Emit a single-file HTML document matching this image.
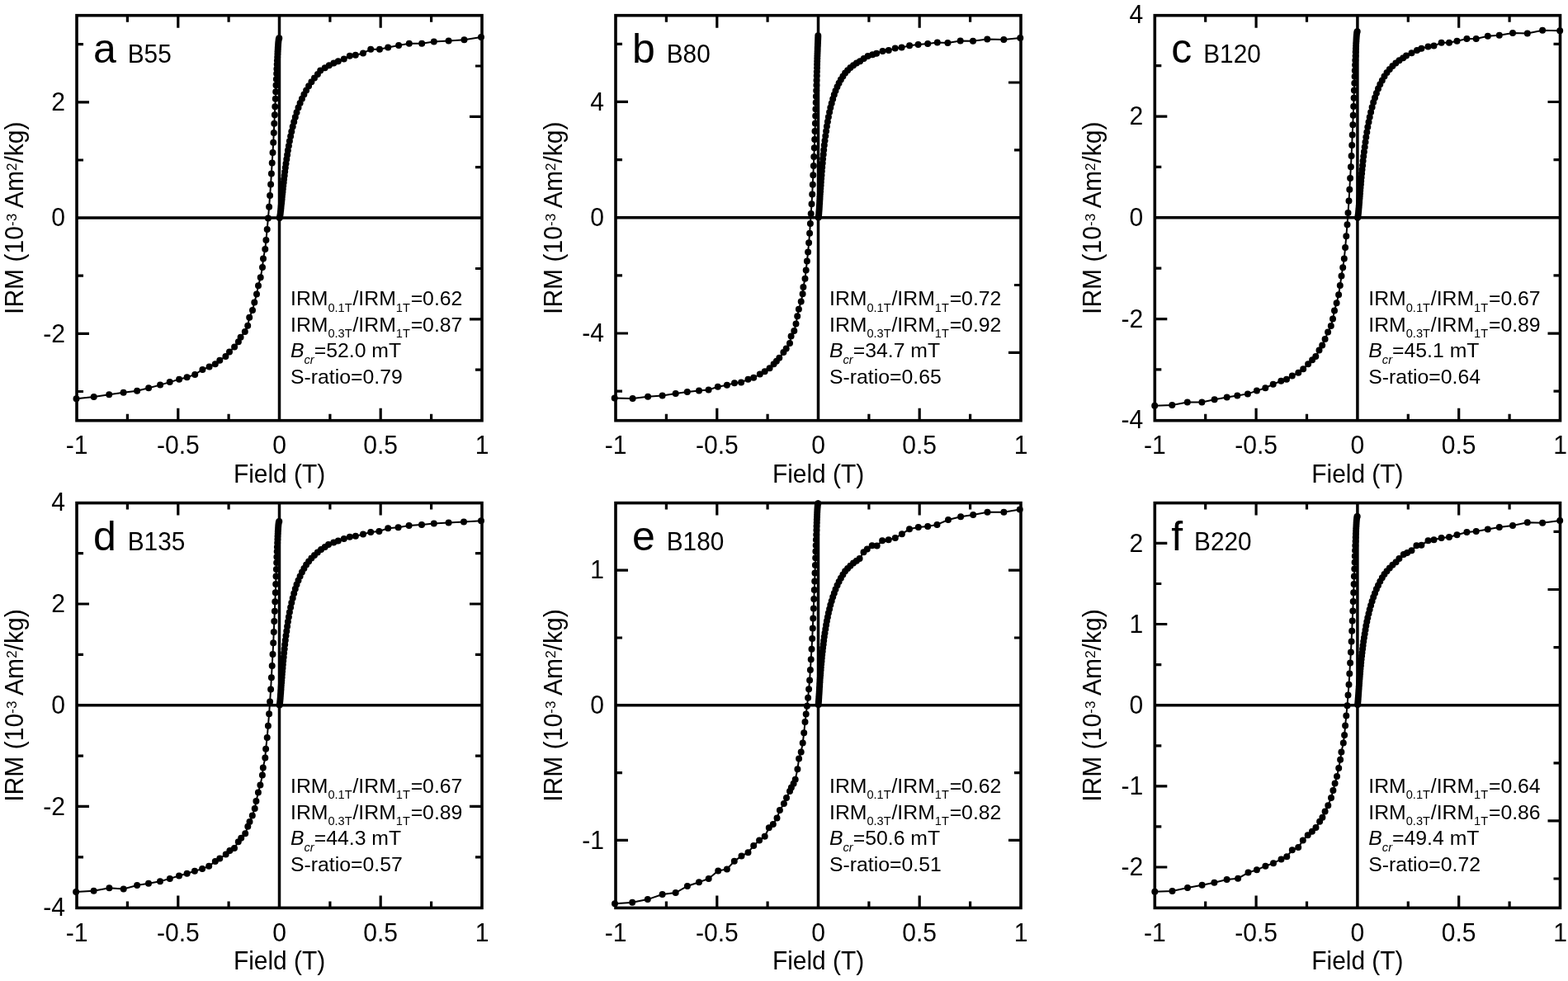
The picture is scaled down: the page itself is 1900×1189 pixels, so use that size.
<!DOCTYPE html>
<html><head><meta charset="utf-8"><title>IRM curves</title><style>
html,body{margin:0;padding:0;background:#fff;}
svg{display:block;}
text{font-family:"Liberation Sans",Arial,Helvetica,sans-serif;fill:#000;}
</style></head><body>
<svg width="1900" height="1189" viewBox="0 0 1900 1189">
<rect width="1900" height="1189" fill="#fff"/>
<polyline points="92.5,483.3 113.7,481.0 132.2,478.3 149.6,475.8 166.1,473.7 180.1,470.3 194.1,466.6 205.7,463.1 217.1,459.8 226.6,457.3 236.2,453.9 245.4,448.0 253.6,444.6 260.8,441.2 266.3,436.8 273.4,432.0 278.0,426.5 284.1,420.4 288.9,414.2 291.6,408.7 296.8,401.9 300.2,394.8 302.2,384.7 306.0,375.9 308.3,366.5 311.0,356.4 313.0,346.3 315.7,336.2 318.0,324.1 319.0,313.4 321.3,301.9 322.4,291.1 323.7,277.9 324.9,264.4 326.1,250.8 327.1,237.1 328.1,223.6 328.9,210.4 329.7,197.5 330.5,184.9 331.2,172.7 331.8,161.0 332.3,149.8 332.9,139.2 333.3,129.2 333.8,119.8 334.2,111.2 334.5,103.2 334.9,95.9 335.2,89.3 335.4,83.4 335.7,78.1 335.9,73.4 336.2,69.2 336.4,65.6 336.5,62.4 336.7,59.7 336.8,57.4 337.0,55.4 337.1,53.7 337.2,52.3 337.3,51.2 337.4,50.2 337.5,49.4 337.6,48.8 337.7,48.3 337.7,47.8 337.8,47.5 337.9,47.2 337.9,47.0 338.0,46.8 338.0,46.7 338.1,46.6 338.1,46.5 338.1,46.5 338.2,46.4 338.2,46.4 338.2,46.3 338.2,46.3 338.3,46.3 338.3,46.3 338.3,46.3 338.3,46.3 338.3,46.2" fill="none" stroke="#000" stroke-width="2.0"/>
<polyline points="583.0,45.0 562.5,48.3 543.6,49.4 525.8,50.5 511.2,52.7 495.8,52.7 483.1,55.0 470.2,57.5 460.0,59.7 449.2,59.7 440.0,64.5 430.8,66.7 423.8,67.8 416.8,71.5 409.8,74.2 404.4,76.4 398.8,79.2 393.7,82.3 388.2,85.6 384.9,89.9 381.0,94.5 377.4,99.2 374.1,104.2 371.1,109.4 368.4,114.5 365.9,119.7 363.6,125.1 361.5,130.6 359.5,136.3 357.8,142.0 356.2,147.8 354.7,153.6 353.3,159.4 352.1,165.2 350.9,171.0 349.9,176.7 348.9,182.3 348.1,187.8 347.3,193.1 346.5,198.3 345.8,203.3 345.2,208.1 344.7,212.8 344.1,217.2 343.7,221.3 343.2,225.3 342.8,229.0 342.5,232.4 342.1,235.6 341.8,238.6 341.6,241.4 341.3,243.9 341.1,246.3 340.8,248.4 340.6,250.3 340.5,252.0 340.3,253.6 340.2,255.0 340.0,256.2 339.9,257.3 339.8,258.3 339.7,259.1 339.6,259.9 339.5,260.5 339.4,261.1 339.3,261.5 339.3,262.0 339.2,262.3 339.1,262.6 339.1,262.9 339.0,263.1 339.0,263.3 338.9,263.4 338.9,263.6 338.9,263.7 338.8,263.7 338.8,263.8 338.8,263.9 338.8,263.9 338.7,264.0 338.7,264.0 338.7,264.0 338.7,264.0 338.7,264.0" fill="none" stroke="#000" stroke-width="2.0"/>
<path d="M88.5,483.3a4.0,4.0 0 1,0 8.0,0a4.0,4.0 0 1,0 -8.0,0M109.7,481.0a4.0,4.0 0 1,0 8.0,0a4.0,4.0 0 1,0 -8.0,0M128.2,478.3a4.0,4.0 0 1,0 8.0,0a4.0,4.0 0 1,0 -8.0,0M145.6,475.8a4.0,4.0 0 1,0 8.0,0a4.0,4.0 0 1,0 -8.0,0M162.1,473.7a4.0,4.0 0 1,0 8.0,0a4.0,4.0 0 1,0 -8.0,0M176.1,470.3a4.0,4.0 0 1,0 8.0,0a4.0,4.0 0 1,0 -8.0,0M190.1,466.6a4.0,4.0 0 1,0 8.0,0a4.0,4.0 0 1,0 -8.0,0M201.7,463.1a4.0,4.0 0 1,0 8.0,0a4.0,4.0 0 1,0 -8.0,0M213.1,459.8a4.0,4.0 0 1,0 8.0,0a4.0,4.0 0 1,0 -8.0,0M222.6,457.3a4.0,4.0 0 1,0 8.0,0a4.0,4.0 0 1,0 -8.0,0M232.2,453.9a4.0,4.0 0 1,0 8.0,0a4.0,4.0 0 1,0 -8.0,0M241.4,448.0a4.0,4.0 0 1,0 8.0,0a4.0,4.0 0 1,0 -8.0,0M249.6,444.6a4.0,4.0 0 1,0 8.0,0a4.0,4.0 0 1,0 -8.0,0M256.8,441.2a4.0,4.0 0 1,0 8.0,0a4.0,4.0 0 1,0 -8.0,0M262.3,436.8a4.0,4.0 0 1,0 8.0,0a4.0,4.0 0 1,0 -8.0,0M269.4,432.0a4.0,4.0 0 1,0 8.0,0a4.0,4.0 0 1,0 -8.0,0M274.0,426.5a4.0,4.0 0 1,0 8.0,0a4.0,4.0 0 1,0 -8.0,0M280.1,420.4a4.0,4.0 0 1,0 8.0,0a4.0,4.0 0 1,0 -8.0,0M284.9,414.2a4.0,4.0 0 1,0 8.0,0a4.0,4.0 0 1,0 -8.0,0M287.6,408.7a4.0,4.0 0 1,0 8.0,0a4.0,4.0 0 1,0 -8.0,0M292.8,401.9a4.0,4.0 0 1,0 8.0,0a4.0,4.0 0 1,0 -8.0,0M296.2,394.8a4.0,4.0 0 1,0 8.0,0a4.0,4.0 0 1,0 -8.0,0M298.2,384.7a4.0,4.0 0 1,0 8.0,0a4.0,4.0 0 1,0 -8.0,0M302.0,375.9a4.0,4.0 0 1,0 8.0,0a4.0,4.0 0 1,0 -8.0,0M304.3,366.5a4.0,4.0 0 1,0 8.0,0a4.0,4.0 0 1,0 -8.0,0M307.0,356.4a4.0,4.0 0 1,0 8.0,0a4.0,4.0 0 1,0 -8.0,0M309.0,346.3a4.0,4.0 0 1,0 8.0,0a4.0,4.0 0 1,0 -8.0,0M311.7,336.2a4.0,4.0 0 1,0 8.0,0a4.0,4.0 0 1,0 -8.0,0M314.0,324.1a4.0,4.0 0 1,0 8.0,0a4.0,4.0 0 1,0 -8.0,0M315.0,313.4a4.0,4.0 0 1,0 8.0,0a4.0,4.0 0 1,0 -8.0,0M317.3,301.9a4.0,4.0 0 1,0 8.0,0a4.0,4.0 0 1,0 -8.0,0M318.4,291.1a4.0,4.0 0 1,0 8.0,0a4.0,4.0 0 1,0 -8.0,0M319.7,277.9a4.0,4.0 0 1,0 8.0,0a4.0,4.0 0 1,0 -8.0,0M320.9,264.4a4.0,4.0 0 1,0 8.0,0a4.0,4.0 0 1,0 -8.0,0M322.1,250.8a4.0,4.0 0 1,0 8.0,0a4.0,4.0 0 1,0 -8.0,0M323.1,237.1a4.0,4.0 0 1,0 8.0,0a4.0,4.0 0 1,0 -8.0,0M324.1,223.6a4.0,4.0 0 1,0 8.0,0a4.0,4.0 0 1,0 -8.0,0M324.9,210.4a4.0,4.0 0 1,0 8.0,0a4.0,4.0 0 1,0 -8.0,0M325.7,197.5a4.0,4.0 0 1,0 8.0,0a4.0,4.0 0 1,0 -8.0,0M326.5,184.9a4.0,4.0 0 1,0 8.0,0a4.0,4.0 0 1,0 -8.0,0M327.2,172.7a4.0,4.0 0 1,0 8.0,0a4.0,4.0 0 1,0 -8.0,0M327.8,161.0a4.0,4.0 0 1,0 8.0,0a4.0,4.0 0 1,0 -8.0,0M328.3,149.8a4.0,4.0 0 1,0 8.0,0a4.0,4.0 0 1,0 -8.0,0M328.9,139.2a4.0,4.0 0 1,0 8.0,0a4.0,4.0 0 1,0 -8.0,0M329.3,129.2a4.0,4.0 0 1,0 8.0,0a4.0,4.0 0 1,0 -8.0,0M329.8,119.8a4.0,4.0 0 1,0 8.0,0a4.0,4.0 0 1,0 -8.0,0M330.2,111.2a4.0,4.0 0 1,0 8.0,0a4.0,4.0 0 1,0 -8.0,0M330.5,103.2a4.0,4.0 0 1,0 8.0,0a4.0,4.0 0 1,0 -8.0,0M330.9,95.9a4.0,4.0 0 1,0 8.0,0a4.0,4.0 0 1,0 -8.0,0M331.2,89.3a4.0,4.0 0 1,0 8.0,0a4.0,4.0 0 1,0 -8.0,0M331.4,83.4a4.0,4.0 0 1,0 8.0,0a4.0,4.0 0 1,0 -8.0,0M331.7,78.1a4.0,4.0 0 1,0 8.0,0a4.0,4.0 0 1,0 -8.0,0M331.9,73.4a4.0,4.0 0 1,0 8.0,0a4.0,4.0 0 1,0 -8.0,0M332.2,69.2a4.0,4.0 0 1,0 8.0,0a4.0,4.0 0 1,0 -8.0,0M332.4,65.6a4.0,4.0 0 1,0 8.0,0a4.0,4.0 0 1,0 -8.0,0M332.5,62.4a4.0,4.0 0 1,0 8.0,0a4.0,4.0 0 1,0 -8.0,0M332.7,59.7a4.0,4.0 0 1,0 8.0,0a4.0,4.0 0 1,0 -8.0,0M332.8,57.4a4.0,4.0 0 1,0 8.0,0a4.0,4.0 0 1,0 -8.0,0M333.0,55.4a4.0,4.0 0 1,0 8.0,0a4.0,4.0 0 1,0 -8.0,0M333.1,53.7a4.0,4.0 0 1,0 8.0,0a4.0,4.0 0 1,0 -8.0,0M333.2,52.3a4.0,4.0 0 1,0 8.0,0a4.0,4.0 0 1,0 -8.0,0M333.3,51.2a4.0,4.0 0 1,0 8.0,0a4.0,4.0 0 1,0 -8.0,0M333.4,50.2a4.0,4.0 0 1,0 8.0,0a4.0,4.0 0 1,0 -8.0,0M333.5,49.4a4.0,4.0 0 1,0 8.0,0a4.0,4.0 0 1,0 -8.0,0M333.6,48.8a4.0,4.0 0 1,0 8.0,0a4.0,4.0 0 1,0 -8.0,0M333.7,48.3a4.0,4.0 0 1,0 8.0,0a4.0,4.0 0 1,0 -8.0,0M333.7,47.8a4.0,4.0 0 1,0 8.0,0a4.0,4.0 0 1,0 -8.0,0M333.8,47.5a4.0,4.0 0 1,0 8.0,0a4.0,4.0 0 1,0 -8.0,0M333.9,47.2a4.0,4.0 0 1,0 8.0,0a4.0,4.0 0 1,0 -8.0,0M333.9,47.0a4.0,4.0 0 1,0 8.0,0a4.0,4.0 0 1,0 -8.0,0M334.0,46.8a4.0,4.0 0 1,0 8.0,0a4.0,4.0 0 1,0 -8.0,0M334.0,46.7a4.0,4.0 0 1,0 8.0,0a4.0,4.0 0 1,0 -8.0,0M334.1,46.6a4.0,4.0 0 1,0 8.0,0a4.0,4.0 0 1,0 -8.0,0M334.1,46.5a4.0,4.0 0 1,0 8.0,0a4.0,4.0 0 1,0 -8.0,0M334.1,46.5a4.0,4.0 0 1,0 8.0,0a4.0,4.0 0 1,0 -8.0,0M334.2,46.4a4.0,4.0 0 1,0 8.0,0a4.0,4.0 0 1,0 -8.0,0M334.2,46.4a4.0,4.0 0 1,0 8.0,0a4.0,4.0 0 1,0 -8.0,0M334.2,46.3a4.0,4.0 0 1,0 8.0,0a4.0,4.0 0 1,0 -8.0,0M334.2,46.3a4.0,4.0 0 1,0 8.0,0a4.0,4.0 0 1,0 -8.0,0M334.3,46.3a4.0,4.0 0 1,0 8.0,0a4.0,4.0 0 1,0 -8.0,0M334.3,46.3a4.0,4.0 0 1,0 8.0,0a4.0,4.0 0 1,0 -8.0,0M334.3,46.3a4.0,4.0 0 1,0 8.0,0a4.0,4.0 0 1,0 -8.0,0M334.3,46.3a4.0,4.0 0 1,0 8.0,0a4.0,4.0 0 1,0 -8.0,0M334.3,46.2a4.0,4.0 0 1,0 8.0,0a4.0,4.0 0 1,0 -8.0,0M579.0,45.0a4.0,4.0 0 1,0 8.0,0a4.0,4.0 0 1,0 -8.0,0M558.5,48.3a4.0,4.0 0 1,0 8.0,0a4.0,4.0 0 1,0 -8.0,0M539.6,49.4a4.0,4.0 0 1,0 8.0,0a4.0,4.0 0 1,0 -8.0,0M521.8,50.5a4.0,4.0 0 1,0 8.0,0a4.0,4.0 0 1,0 -8.0,0M507.2,52.7a4.0,4.0 0 1,0 8.0,0a4.0,4.0 0 1,0 -8.0,0M491.8,52.7a4.0,4.0 0 1,0 8.0,0a4.0,4.0 0 1,0 -8.0,0M479.1,55.0a4.0,4.0 0 1,0 8.0,0a4.0,4.0 0 1,0 -8.0,0M466.2,57.5a4.0,4.0 0 1,0 8.0,0a4.0,4.0 0 1,0 -8.0,0M456.0,59.7a4.0,4.0 0 1,0 8.0,0a4.0,4.0 0 1,0 -8.0,0M445.2,59.7a4.0,4.0 0 1,0 8.0,0a4.0,4.0 0 1,0 -8.0,0M436.0,64.5a4.0,4.0 0 1,0 8.0,0a4.0,4.0 0 1,0 -8.0,0M426.8,66.7a4.0,4.0 0 1,0 8.0,0a4.0,4.0 0 1,0 -8.0,0M419.8,67.8a4.0,4.0 0 1,0 8.0,0a4.0,4.0 0 1,0 -8.0,0M412.8,71.5a4.0,4.0 0 1,0 8.0,0a4.0,4.0 0 1,0 -8.0,0M405.8,74.2a4.0,4.0 0 1,0 8.0,0a4.0,4.0 0 1,0 -8.0,0M400.4,76.4a4.0,4.0 0 1,0 8.0,0a4.0,4.0 0 1,0 -8.0,0M394.8,79.2a4.0,4.0 0 1,0 8.0,0a4.0,4.0 0 1,0 -8.0,0M389.7,82.3a4.0,4.0 0 1,0 8.0,0a4.0,4.0 0 1,0 -8.0,0M384.2,85.6a4.0,4.0 0 1,0 8.0,0a4.0,4.0 0 1,0 -8.0,0M380.9,89.9a4.0,4.0 0 1,0 8.0,0a4.0,4.0 0 1,0 -8.0,0M377.0,94.5a4.0,4.0 0 1,0 8.0,0a4.0,4.0 0 1,0 -8.0,0M373.4,99.2a4.0,4.0 0 1,0 8.0,0a4.0,4.0 0 1,0 -8.0,0M370.1,104.2a4.0,4.0 0 1,0 8.0,0a4.0,4.0 0 1,0 -8.0,0M367.1,109.4a4.0,4.0 0 1,0 8.0,0a4.0,4.0 0 1,0 -8.0,0M364.4,114.5a4.0,4.0 0 1,0 8.0,0a4.0,4.0 0 1,0 -8.0,0M361.9,119.7a4.0,4.0 0 1,0 8.0,0a4.0,4.0 0 1,0 -8.0,0M359.6,125.1a4.0,4.0 0 1,0 8.0,0a4.0,4.0 0 1,0 -8.0,0M357.5,130.6a4.0,4.0 0 1,0 8.0,0a4.0,4.0 0 1,0 -8.0,0M355.5,136.3a4.0,4.0 0 1,0 8.0,0a4.0,4.0 0 1,0 -8.0,0M353.8,142.0a4.0,4.0 0 1,0 8.0,0a4.0,4.0 0 1,0 -8.0,0M352.2,147.8a4.0,4.0 0 1,0 8.0,0a4.0,4.0 0 1,0 -8.0,0M350.7,153.6a4.0,4.0 0 1,0 8.0,0a4.0,4.0 0 1,0 -8.0,0M349.3,159.4a4.0,4.0 0 1,0 8.0,0a4.0,4.0 0 1,0 -8.0,0M348.1,165.2a4.0,4.0 0 1,0 8.0,0a4.0,4.0 0 1,0 -8.0,0M346.9,171.0a4.0,4.0 0 1,0 8.0,0a4.0,4.0 0 1,0 -8.0,0M345.9,176.7a4.0,4.0 0 1,0 8.0,0a4.0,4.0 0 1,0 -8.0,0M344.9,182.3a4.0,4.0 0 1,0 8.0,0a4.0,4.0 0 1,0 -8.0,0M344.1,187.8a4.0,4.0 0 1,0 8.0,0a4.0,4.0 0 1,0 -8.0,0M343.3,193.1a4.0,4.0 0 1,0 8.0,0a4.0,4.0 0 1,0 -8.0,0M342.5,198.3a4.0,4.0 0 1,0 8.0,0a4.0,4.0 0 1,0 -8.0,0M341.8,203.3a4.0,4.0 0 1,0 8.0,0a4.0,4.0 0 1,0 -8.0,0M341.2,208.1a4.0,4.0 0 1,0 8.0,0a4.0,4.0 0 1,0 -8.0,0M340.7,212.8a4.0,4.0 0 1,0 8.0,0a4.0,4.0 0 1,0 -8.0,0M340.1,217.2a4.0,4.0 0 1,0 8.0,0a4.0,4.0 0 1,0 -8.0,0M339.7,221.3a4.0,4.0 0 1,0 8.0,0a4.0,4.0 0 1,0 -8.0,0M339.2,225.3a4.0,4.0 0 1,0 8.0,0a4.0,4.0 0 1,0 -8.0,0M338.8,229.0a4.0,4.0 0 1,0 8.0,0a4.0,4.0 0 1,0 -8.0,0M338.5,232.4a4.0,4.0 0 1,0 8.0,0a4.0,4.0 0 1,0 -8.0,0M338.1,235.6a4.0,4.0 0 1,0 8.0,0a4.0,4.0 0 1,0 -8.0,0M337.8,238.6a4.0,4.0 0 1,0 8.0,0a4.0,4.0 0 1,0 -8.0,0M337.6,241.4a4.0,4.0 0 1,0 8.0,0a4.0,4.0 0 1,0 -8.0,0M337.3,243.9a4.0,4.0 0 1,0 8.0,0a4.0,4.0 0 1,0 -8.0,0M337.1,246.3a4.0,4.0 0 1,0 8.0,0a4.0,4.0 0 1,0 -8.0,0M336.8,248.4a4.0,4.0 0 1,0 8.0,0a4.0,4.0 0 1,0 -8.0,0M336.6,250.3a4.0,4.0 0 1,0 8.0,0a4.0,4.0 0 1,0 -8.0,0M336.5,252.0a4.0,4.0 0 1,0 8.0,0a4.0,4.0 0 1,0 -8.0,0M336.3,253.6a4.0,4.0 0 1,0 8.0,0a4.0,4.0 0 1,0 -8.0,0M336.2,255.0a4.0,4.0 0 1,0 8.0,0a4.0,4.0 0 1,0 -8.0,0M336.0,256.2a4.0,4.0 0 1,0 8.0,0a4.0,4.0 0 1,0 -8.0,0M335.9,257.3a4.0,4.0 0 1,0 8.0,0a4.0,4.0 0 1,0 -8.0,0M335.8,258.3a4.0,4.0 0 1,0 8.0,0a4.0,4.0 0 1,0 -8.0,0M335.7,259.1a4.0,4.0 0 1,0 8.0,0a4.0,4.0 0 1,0 -8.0,0M335.6,259.9a4.0,4.0 0 1,0 8.0,0a4.0,4.0 0 1,0 -8.0,0M335.5,260.5a4.0,4.0 0 1,0 8.0,0a4.0,4.0 0 1,0 -8.0,0M335.4,261.1a4.0,4.0 0 1,0 8.0,0a4.0,4.0 0 1,0 -8.0,0M335.3,261.5a4.0,4.0 0 1,0 8.0,0a4.0,4.0 0 1,0 -8.0,0M335.3,262.0a4.0,4.0 0 1,0 8.0,0a4.0,4.0 0 1,0 -8.0,0M335.2,262.3a4.0,4.0 0 1,0 8.0,0a4.0,4.0 0 1,0 -8.0,0M335.1,262.6a4.0,4.0 0 1,0 8.0,0a4.0,4.0 0 1,0 -8.0,0M335.1,262.9a4.0,4.0 0 1,0 8.0,0a4.0,4.0 0 1,0 -8.0,0M335.0,263.1a4.0,4.0 0 1,0 8.0,0a4.0,4.0 0 1,0 -8.0,0M335.0,263.3a4.0,4.0 0 1,0 8.0,0a4.0,4.0 0 1,0 -8.0,0M334.9,263.4a4.0,4.0 0 1,0 8.0,0a4.0,4.0 0 1,0 -8.0,0M334.9,263.6a4.0,4.0 0 1,0 8.0,0a4.0,4.0 0 1,0 -8.0,0M334.9,263.7a4.0,4.0 0 1,0 8.0,0a4.0,4.0 0 1,0 -8.0,0M334.8,263.7a4.0,4.0 0 1,0 8.0,0a4.0,4.0 0 1,0 -8.0,0M334.8,263.8a4.0,4.0 0 1,0 8.0,0a4.0,4.0 0 1,0 -8.0,0M334.8,263.9a4.0,4.0 0 1,0 8.0,0a4.0,4.0 0 1,0 -8.0,0M334.8,263.9a4.0,4.0 0 1,0 8.0,0a4.0,4.0 0 1,0 -8.0,0M334.7,264.0a4.0,4.0 0 1,0 8.0,0a4.0,4.0 0 1,0 -8.0,0M334.7,264.0a4.0,4.0 0 1,0 8.0,0a4.0,4.0 0 1,0 -8.0,0M334.7,264.0a4.0,4.0 0 1,0 8.0,0a4.0,4.0 0 1,0 -8.0,0M334.7,264.0a4.0,4.0 0 1,0 8.0,0a4.0,4.0 0 1,0 -8.0,0M334.7,264.0a4.0,4.0 0 1,0 8.0,0a4.0,4.0 0 1,0 -8.0,0" fill="#000"/>
<path d="M93.0,264.1H584.0M338.5,18.7V509.7" stroke="#000" stroke-width="3.5" fill="none"/>
<path d="M154.4,509.7v-8.0M154.4,18.7v8.0M215.8,509.7v-15.0M215.8,18.7v15.0M277.1,509.7v-8.0M277.1,18.7v8.0M399.9,509.7v-8.0M399.9,18.7v8.0M461.2,509.7v-15.0M461.2,18.7v15.0M522.6,509.7v-8.0M522.6,18.7v8.0M93.0,474.5h8.0M93.0,404.4h15.0M93.0,334.2h8.0M93.0,194.0h8.0M93.0,123.8h15.0M93.0,53.7h8.0M584.0,448.2h-8.0M584.0,386.9h-15.0M584.0,325.5h-8.0M584.0,202.7h-8.0M584.0,141.4h-15.0M584.0,80.0h-8.0" stroke="#000" stroke-width="3.2" fill="none"/>
<rect x="93.0" y="18.7" width="491.0" height="491.0" fill="none" stroke="#000" stroke-width="3.6"/>
<g font-size="30.1"><text transform="translate(79.0,133.9) scale(1,1.045)" text-anchor="end">2</text><text transform="translate(79.0,274.2) scale(1,1.045)" text-anchor="end">0</text><text transform="translate(79.0,414.5) scale(1,1.045)" text-anchor="end">-2</text><text transform="translate(93.0,549.9) scale(1,1.045)" text-anchor="middle">-1</text><text transform="translate(215.8,549.9) scale(1,1.045)" text-anchor="middle">-0.5</text><text transform="translate(338.5,549.9) scale(1,1.045)" text-anchor="middle">0</text><text transform="translate(461.2,549.9) scale(1,1.045)" text-anchor="middle">0.5</text><text transform="translate(584.0,549.9) scale(1,1.045)" text-anchor="middle">1</text><text transform="translate(338.5,584.7) scale(1,1.05)" text-anchor="middle" font-size="29.9">Field (T)</text><text transform="translate(28.0,264.2) rotate(-90) scale(1,1.02)" text-anchor="middle">IRM (10<tspan font-size="17" dy="-7.5">-3</tspan><tspan dy="7.5"> Am</tspan><tspan font-size="17" dy="-7.5">2</tspan><tspan dy="7.5">/kg)</tspan></text><text x="113.0" y="76.2" font-size="50">a</text><text transform="translate(154.7,76.1) scale(1,1.04)" font-size="29.8">B55</text><text x="352.0" y="370.0" font-size="24.8">IRM<tspan font-size="14.6" dy="7.5">0.1T</tspan><tspan dy="-7.5" dx="0.8">/IRM</tspan><tspan font-size="14.6" dy="7.5">1T</tspan><tspan dy="-7.5" dx="0.8">=0.62</tspan></text><text x="352.0" y="401.8" font-size="24.8">IRM<tspan font-size="14.6" dy="7.5">0.3T</tspan><tspan dy="-7.5" dx="0.8">/IRM</tspan><tspan font-size="14.6" dy="7.5">1T</tspan><tspan dy="-7.5" dx="0.8">=0.87</tspan></text><text x="352.0" y="433.3" font-size="24.8"><tspan font-style="italic">B</tspan><tspan font-size="14.6" dy="7.5" font-style="italic">cr</tspan><tspan dy="-7.5">=52.0 mT</tspan></text><text x="352.0" y="464.7" font-size="24.8">S-ratio=0.79</text></g>
<polyline points="744.7,482.5 766.6,483.0 785.1,480.8 802.6,479.6 818.7,476.9 832.8,474.9 847.0,473.6 858.6,472.4 869.8,468.7 880.9,466.8 890.0,464.3 898.1,463.5 906.5,459.8 913.2,457.8 920.8,453.5 926.7,450.2 932.6,446.3 937.6,441.3 940.9,437.7 944.3,433.7 949.4,427.0 952.7,422.4 957.0,416.0 958.6,407.6 962.3,400.9 964.5,392.5 966.2,383.3 967.9,374.8 970.7,365.6 972.6,356.3 973.4,347.9 975.5,337.8 976.7,327.4 977.9,316.6 979.1,305.6 980.1,294.3 981.1,282.8 981.9,271.0 982.7,259.1 983.5,247.2 984.2,235.4 984.8,223.7 985.3,212.2 985.9,200.9 986.3,189.9 986.8,179.2 987.2,168.9 987.5,159.0 987.9,149.6 988.2,140.6 988.4,132.2 988.7,124.2 988.9,116.7 989.2,109.7 989.4,103.3 989.5,97.3 989.7,91.8 989.8,86.8 990.0,82.2 990.1,78.0 990.2,74.2 990.3,70.8 990.4,67.7 990.5,65.0 990.6,62.5 990.7,60.3 990.7,58.3 990.8,56.5 990.9,54.9 990.9,53.5 991.0,52.2 991.0,51.1 991.1,50.1 991.1,49.1 991.1,48.3 991.2,47.5 991.2,46.8 991.2,46.2 991.2,45.6 991.3,45.1 991.3,44.5 991.3,44.1 991.3,43.6 991.3,43.2" fill="none" stroke="#000" stroke-width="2.0"/>
<polyline points="1236.3,46.0 1216.3,48.1 1196.3,47.4 1179.0,49.8 1163.7,49.5 1148.4,52.1 1135.8,51.6 1124.2,52.9 1112.6,54.0 1102.1,55.3 1092.6,57.6 1084.7,58.6 1076.8,61.1 1069.5,62.1 1062.1,64.7 1057.3,66.2 1051.6,67.9 1046.7,71.0 1042.1,74.2 1037.9,76.6 1034.0,79.3 1030.4,82.1 1027.1,85.2 1024.1,88.6 1021.4,92.4 1018.9,96.4 1016.6,100.7 1014.5,105.2 1012.5,109.9 1010.8,114.8 1009.2,119.9 1007.7,125.2 1006.3,130.6 1005.1,136.1 1003.9,141.7 1002.9,147.4 1001.9,153.2 1001.1,158.9 1000.3,164.7 999.5,170.4 998.8,176.1 998.2,181.7 997.7,187.2 997.1,192.5 996.7,197.7 996.2,202.7 995.8,207.6 995.5,212.2 995.1,216.6 994.8,220.8 994.6,224.8 994.3,228.5 994.1,232.0 993.8,235.3 993.6,238.3 993.5,241.0 993.3,243.6 993.2,245.9 993.0,248.1 992.9,250.0 992.8,251.7 992.7,253.3 992.6,254.7 992.5,255.9 992.4,257.0 992.3,258.0 992.3,258.8 992.2,259.6 992.1,260.2 992.1,260.8 992.0,261.2 992.0,261.6 991.9,262.0 991.9,262.3 991.9,262.5 991.8,262.7 991.8,262.9 991.8,263.1 991.8,263.2 991.7,263.3 991.7,263.4 991.7,263.4 991.7,263.5 991.7,263.5" fill="none" stroke="#000" stroke-width="2.0"/>
<path d="M740.7,482.5a4.0,4.0 0 1,0 8.0,0a4.0,4.0 0 1,0 -8.0,0M762.6,483.0a4.0,4.0 0 1,0 8.0,0a4.0,4.0 0 1,0 -8.0,0M781.1,480.8a4.0,4.0 0 1,0 8.0,0a4.0,4.0 0 1,0 -8.0,0M798.6,479.6a4.0,4.0 0 1,0 8.0,0a4.0,4.0 0 1,0 -8.0,0M814.7,476.9a4.0,4.0 0 1,0 8.0,0a4.0,4.0 0 1,0 -8.0,0M828.8,474.9a4.0,4.0 0 1,0 8.0,0a4.0,4.0 0 1,0 -8.0,0M843.0,473.6a4.0,4.0 0 1,0 8.0,0a4.0,4.0 0 1,0 -8.0,0M854.6,472.4a4.0,4.0 0 1,0 8.0,0a4.0,4.0 0 1,0 -8.0,0M865.8,468.7a4.0,4.0 0 1,0 8.0,0a4.0,4.0 0 1,0 -8.0,0M876.9,466.8a4.0,4.0 0 1,0 8.0,0a4.0,4.0 0 1,0 -8.0,0M886.0,464.3a4.0,4.0 0 1,0 8.0,0a4.0,4.0 0 1,0 -8.0,0M894.1,463.5a4.0,4.0 0 1,0 8.0,0a4.0,4.0 0 1,0 -8.0,0M902.5,459.8a4.0,4.0 0 1,0 8.0,0a4.0,4.0 0 1,0 -8.0,0M909.2,457.8a4.0,4.0 0 1,0 8.0,0a4.0,4.0 0 1,0 -8.0,0M916.8,453.5a4.0,4.0 0 1,0 8.0,0a4.0,4.0 0 1,0 -8.0,0M922.7,450.2a4.0,4.0 0 1,0 8.0,0a4.0,4.0 0 1,0 -8.0,0M928.6,446.3a4.0,4.0 0 1,0 8.0,0a4.0,4.0 0 1,0 -8.0,0M933.6,441.3a4.0,4.0 0 1,0 8.0,0a4.0,4.0 0 1,0 -8.0,0M936.9,437.7a4.0,4.0 0 1,0 8.0,0a4.0,4.0 0 1,0 -8.0,0M940.3,433.7a4.0,4.0 0 1,0 8.0,0a4.0,4.0 0 1,0 -8.0,0M945.4,427.0a4.0,4.0 0 1,0 8.0,0a4.0,4.0 0 1,0 -8.0,0M948.7,422.4a4.0,4.0 0 1,0 8.0,0a4.0,4.0 0 1,0 -8.0,0M953.0,416.0a4.0,4.0 0 1,0 8.0,0a4.0,4.0 0 1,0 -8.0,0M954.6,407.6a4.0,4.0 0 1,0 8.0,0a4.0,4.0 0 1,0 -8.0,0M958.3,400.9a4.0,4.0 0 1,0 8.0,0a4.0,4.0 0 1,0 -8.0,0M960.5,392.5a4.0,4.0 0 1,0 8.0,0a4.0,4.0 0 1,0 -8.0,0M962.2,383.3a4.0,4.0 0 1,0 8.0,0a4.0,4.0 0 1,0 -8.0,0M963.9,374.8a4.0,4.0 0 1,0 8.0,0a4.0,4.0 0 1,0 -8.0,0M966.7,365.6a4.0,4.0 0 1,0 8.0,0a4.0,4.0 0 1,0 -8.0,0M968.6,356.3a4.0,4.0 0 1,0 8.0,0a4.0,4.0 0 1,0 -8.0,0M969.4,347.9a4.0,4.0 0 1,0 8.0,0a4.0,4.0 0 1,0 -8.0,0M971.5,337.8a4.0,4.0 0 1,0 8.0,0a4.0,4.0 0 1,0 -8.0,0M972.7,327.4a4.0,4.0 0 1,0 8.0,0a4.0,4.0 0 1,0 -8.0,0M973.9,316.6a4.0,4.0 0 1,0 8.0,0a4.0,4.0 0 1,0 -8.0,0M975.1,305.6a4.0,4.0 0 1,0 8.0,0a4.0,4.0 0 1,0 -8.0,0M976.1,294.3a4.0,4.0 0 1,0 8.0,0a4.0,4.0 0 1,0 -8.0,0M977.1,282.8a4.0,4.0 0 1,0 8.0,0a4.0,4.0 0 1,0 -8.0,0M977.9,271.0a4.0,4.0 0 1,0 8.0,0a4.0,4.0 0 1,0 -8.0,0M978.7,259.1a4.0,4.0 0 1,0 8.0,0a4.0,4.0 0 1,0 -8.0,0M979.5,247.2a4.0,4.0 0 1,0 8.0,0a4.0,4.0 0 1,0 -8.0,0M980.2,235.4a4.0,4.0 0 1,0 8.0,0a4.0,4.0 0 1,0 -8.0,0M980.8,223.7a4.0,4.0 0 1,0 8.0,0a4.0,4.0 0 1,0 -8.0,0M981.3,212.2a4.0,4.0 0 1,0 8.0,0a4.0,4.0 0 1,0 -8.0,0M981.9,200.9a4.0,4.0 0 1,0 8.0,0a4.0,4.0 0 1,0 -8.0,0M982.3,189.9a4.0,4.0 0 1,0 8.0,0a4.0,4.0 0 1,0 -8.0,0M982.8,179.2a4.0,4.0 0 1,0 8.0,0a4.0,4.0 0 1,0 -8.0,0M983.2,168.9a4.0,4.0 0 1,0 8.0,0a4.0,4.0 0 1,0 -8.0,0M983.5,159.0a4.0,4.0 0 1,0 8.0,0a4.0,4.0 0 1,0 -8.0,0M983.9,149.6a4.0,4.0 0 1,0 8.0,0a4.0,4.0 0 1,0 -8.0,0M984.2,140.6a4.0,4.0 0 1,0 8.0,0a4.0,4.0 0 1,0 -8.0,0M984.4,132.2a4.0,4.0 0 1,0 8.0,0a4.0,4.0 0 1,0 -8.0,0M984.7,124.2a4.0,4.0 0 1,0 8.0,0a4.0,4.0 0 1,0 -8.0,0M984.9,116.7a4.0,4.0 0 1,0 8.0,0a4.0,4.0 0 1,0 -8.0,0M985.2,109.7a4.0,4.0 0 1,0 8.0,0a4.0,4.0 0 1,0 -8.0,0M985.4,103.3a4.0,4.0 0 1,0 8.0,0a4.0,4.0 0 1,0 -8.0,0M985.5,97.3a4.0,4.0 0 1,0 8.0,0a4.0,4.0 0 1,0 -8.0,0M985.7,91.8a4.0,4.0 0 1,0 8.0,0a4.0,4.0 0 1,0 -8.0,0M985.8,86.8a4.0,4.0 0 1,0 8.0,0a4.0,4.0 0 1,0 -8.0,0M986.0,82.2a4.0,4.0 0 1,0 8.0,0a4.0,4.0 0 1,0 -8.0,0M986.1,78.0a4.0,4.0 0 1,0 8.0,0a4.0,4.0 0 1,0 -8.0,0M986.2,74.2a4.0,4.0 0 1,0 8.0,0a4.0,4.0 0 1,0 -8.0,0M986.3,70.8a4.0,4.0 0 1,0 8.0,0a4.0,4.0 0 1,0 -8.0,0M986.4,67.7a4.0,4.0 0 1,0 8.0,0a4.0,4.0 0 1,0 -8.0,0M986.5,65.0a4.0,4.0 0 1,0 8.0,0a4.0,4.0 0 1,0 -8.0,0M986.6,62.5a4.0,4.0 0 1,0 8.0,0a4.0,4.0 0 1,0 -8.0,0M986.7,60.3a4.0,4.0 0 1,0 8.0,0a4.0,4.0 0 1,0 -8.0,0M986.7,58.3a4.0,4.0 0 1,0 8.0,0a4.0,4.0 0 1,0 -8.0,0M986.8,56.5a4.0,4.0 0 1,0 8.0,0a4.0,4.0 0 1,0 -8.0,0M986.9,54.9a4.0,4.0 0 1,0 8.0,0a4.0,4.0 0 1,0 -8.0,0M986.9,53.5a4.0,4.0 0 1,0 8.0,0a4.0,4.0 0 1,0 -8.0,0M987.0,52.2a4.0,4.0 0 1,0 8.0,0a4.0,4.0 0 1,0 -8.0,0M987.0,51.1a4.0,4.0 0 1,0 8.0,0a4.0,4.0 0 1,0 -8.0,0M987.1,50.1a4.0,4.0 0 1,0 8.0,0a4.0,4.0 0 1,0 -8.0,0M987.1,49.1a4.0,4.0 0 1,0 8.0,0a4.0,4.0 0 1,0 -8.0,0M987.1,48.3a4.0,4.0 0 1,0 8.0,0a4.0,4.0 0 1,0 -8.0,0M987.2,47.5a4.0,4.0 0 1,0 8.0,0a4.0,4.0 0 1,0 -8.0,0M987.2,46.8a4.0,4.0 0 1,0 8.0,0a4.0,4.0 0 1,0 -8.0,0M987.2,46.2a4.0,4.0 0 1,0 8.0,0a4.0,4.0 0 1,0 -8.0,0M987.2,45.6a4.0,4.0 0 1,0 8.0,0a4.0,4.0 0 1,0 -8.0,0M987.3,45.1a4.0,4.0 0 1,0 8.0,0a4.0,4.0 0 1,0 -8.0,0M987.3,44.5a4.0,4.0 0 1,0 8.0,0a4.0,4.0 0 1,0 -8.0,0M987.3,44.1a4.0,4.0 0 1,0 8.0,0a4.0,4.0 0 1,0 -8.0,0M987.3,43.6a4.0,4.0 0 1,0 8.0,0a4.0,4.0 0 1,0 -8.0,0M987.3,43.2a4.0,4.0 0 1,0 8.0,0a4.0,4.0 0 1,0 -8.0,0M1232.3,46.0a4.0,4.0 0 1,0 8.0,0a4.0,4.0 0 1,0 -8.0,0M1212.3,48.1a4.0,4.0 0 1,0 8.0,0a4.0,4.0 0 1,0 -8.0,0M1192.3,47.4a4.0,4.0 0 1,0 8.0,0a4.0,4.0 0 1,0 -8.0,0M1175.0,49.8a4.0,4.0 0 1,0 8.0,0a4.0,4.0 0 1,0 -8.0,0M1159.7,49.5a4.0,4.0 0 1,0 8.0,0a4.0,4.0 0 1,0 -8.0,0M1144.4,52.1a4.0,4.0 0 1,0 8.0,0a4.0,4.0 0 1,0 -8.0,0M1131.8,51.6a4.0,4.0 0 1,0 8.0,0a4.0,4.0 0 1,0 -8.0,0M1120.2,52.9a4.0,4.0 0 1,0 8.0,0a4.0,4.0 0 1,0 -8.0,0M1108.6,54.0a4.0,4.0 0 1,0 8.0,0a4.0,4.0 0 1,0 -8.0,0M1098.1,55.3a4.0,4.0 0 1,0 8.0,0a4.0,4.0 0 1,0 -8.0,0M1088.6,57.6a4.0,4.0 0 1,0 8.0,0a4.0,4.0 0 1,0 -8.0,0M1080.7,58.6a4.0,4.0 0 1,0 8.0,0a4.0,4.0 0 1,0 -8.0,0M1072.8,61.1a4.0,4.0 0 1,0 8.0,0a4.0,4.0 0 1,0 -8.0,0M1065.5,62.1a4.0,4.0 0 1,0 8.0,0a4.0,4.0 0 1,0 -8.0,0M1058.1,64.7a4.0,4.0 0 1,0 8.0,0a4.0,4.0 0 1,0 -8.0,0M1053.3,66.2a4.0,4.0 0 1,0 8.0,0a4.0,4.0 0 1,0 -8.0,0M1047.6,67.9a4.0,4.0 0 1,0 8.0,0a4.0,4.0 0 1,0 -8.0,0M1042.7,71.0a4.0,4.0 0 1,0 8.0,0a4.0,4.0 0 1,0 -8.0,0M1038.1,74.2a4.0,4.0 0 1,0 8.0,0a4.0,4.0 0 1,0 -8.0,0M1033.9,76.6a4.0,4.0 0 1,0 8.0,0a4.0,4.0 0 1,0 -8.0,0M1030.0,79.3a4.0,4.0 0 1,0 8.0,0a4.0,4.0 0 1,0 -8.0,0M1026.4,82.1a4.0,4.0 0 1,0 8.0,0a4.0,4.0 0 1,0 -8.0,0M1023.1,85.2a4.0,4.0 0 1,0 8.0,0a4.0,4.0 0 1,0 -8.0,0M1020.1,88.6a4.0,4.0 0 1,0 8.0,0a4.0,4.0 0 1,0 -8.0,0M1017.4,92.4a4.0,4.0 0 1,0 8.0,0a4.0,4.0 0 1,0 -8.0,0M1014.9,96.4a4.0,4.0 0 1,0 8.0,0a4.0,4.0 0 1,0 -8.0,0M1012.6,100.7a4.0,4.0 0 1,0 8.0,0a4.0,4.0 0 1,0 -8.0,0M1010.5,105.2a4.0,4.0 0 1,0 8.0,0a4.0,4.0 0 1,0 -8.0,0M1008.5,109.9a4.0,4.0 0 1,0 8.0,0a4.0,4.0 0 1,0 -8.0,0M1006.8,114.8a4.0,4.0 0 1,0 8.0,0a4.0,4.0 0 1,0 -8.0,0M1005.2,119.9a4.0,4.0 0 1,0 8.0,0a4.0,4.0 0 1,0 -8.0,0M1003.7,125.2a4.0,4.0 0 1,0 8.0,0a4.0,4.0 0 1,0 -8.0,0M1002.3,130.6a4.0,4.0 0 1,0 8.0,0a4.0,4.0 0 1,0 -8.0,0M1001.1,136.1a4.0,4.0 0 1,0 8.0,0a4.0,4.0 0 1,0 -8.0,0M999.9,141.7a4.0,4.0 0 1,0 8.0,0a4.0,4.0 0 1,0 -8.0,0M998.9,147.4a4.0,4.0 0 1,0 8.0,0a4.0,4.0 0 1,0 -8.0,0M997.9,153.2a4.0,4.0 0 1,0 8.0,0a4.0,4.0 0 1,0 -8.0,0M997.1,158.9a4.0,4.0 0 1,0 8.0,0a4.0,4.0 0 1,0 -8.0,0M996.3,164.7a4.0,4.0 0 1,0 8.0,0a4.0,4.0 0 1,0 -8.0,0M995.5,170.4a4.0,4.0 0 1,0 8.0,0a4.0,4.0 0 1,0 -8.0,0M994.8,176.1a4.0,4.0 0 1,0 8.0,0a4.0,4.0 0 1,0 -8.0,0M994.2,181.7a4.0,4.0 0 1,0 8.0,0a4.0,4.0 0 1,0 -8.0,0M993.7,187.2a4.0,4.0 0 1,0 8.0,0a4.0,4.0 0 1,0 -8.0,0M993.1,192.5a4.0,4.0 0 1,0 8.0,0a4.0,4.0 0 1,0 -8.0,0M992.7,197.7a4.0,4.0 0 1,0 8.0,0a4.0,4.0 0 1,0 -8.0,0M992.2,202.7a4.0,4.0 0 1,0 8.0,0a4.0,4.0 0 1,0 -8.0,0M991.8,207.6a4.0,4.0 0 1,0 8.0,0a4.0,4.0 0 1,0 -8.0,0M991.5,212.2a4.0,4.0 0 1,0 8.0,0a4.0,4.0 0 1,0 -8.0,0M991.1,216.6a4.0,4.0 0 1,0 8.0,0a4.0,4.0 0 1,0 -8.0,0M990.8,220.8a4.0,4.0 0 1,0 8.0,0a4.0,4.0 0 1,0 -8.0,0M990.6,224.8a4.0,4.0 0 1,0 8.0,0a4.0,4.0 0 1,0 -8.0,0M990.3,228.5a4.0,4.0 0 1,0 8.0,0a4.0,4.0 0 1,0 -8.0,0M990.1,232.0a4.0,4.0 0 1,0 8.0,0a4.0,4.0 0 1,0 -8.0,0M989.8,235.3a4.0,4.0 0 1,0 8.0,0a4.0,4.0 0 1,0 -8.0,0M989.6,238.3a4.0,4.0 0 1,0 8.0,0a4.0,4.0 0 1,0 -8.0,0M989.5,241.0a4.0,4.0 0 1,0 8.0,0a4.0,4.0 0 1,0 -8.0,0M989.3,243.6a4.0,4.0 0 1,0 8.0,0a4.0,4.0 0 1,0 -8.0,0M989.2,245.9a4.0,4.0 0 1,0 8.0,0a4.0,4.0 0 1,0 -8.0,0M989.0,248.1a4.0,4.0 0 1,0 8.0,0a4.0,4.0 0 1,0 -8.0,0M988.9,250.0a4.0,4.0 0 1,0 8.0,0a4.0,4.0 0 1,0 -8.0,0M988.8,251.7a4.0,4.0 0 1,0 8.0,0a4.0,4.0 0 1,0 -8.0,0M988.7,253.3a4.0,4.0 0 1,0 8.0,0a4.0,4.0 0 1,0 -8.0,0M988.6,254.7a4.0,4.0 0 1,0 8.0,0a4.0,4.0 0 1,0 -8.0,0M988.5,255.9a4.0,4.0 0 1,0 8.0,0a4.0,4.0 0 1,0 -8.0,0M988.4,257.0a4.0,4.0 0 1,0 8.0,0a4.0,4.0 0 1,0 -8.0,0M988.3,258.0a4.0,4.0 0 1,0 8.0,0a4.0,4.0 0 1,0 -8.0,0M988.3,258.8a4.0,4.0 0 1,0 8.0,0a4.0,4.0 0 1,0 -8.0,0M988.2,259.6a4.0,4.0 0 1,0 8.0,0a4.0,4.0 0 1,0 -8.0,0M988.1,260.2a4.0,4.0 0 1,0 8.0,0a4.0,4.0 0 1,0 -8.0,0M988.1,260.8a4.0,4.0 0 1,0 8.0,0a4.0,4.0 0 1,0 -8.0,0M988.0,261.2a4.0,4.0 0 1,0 8.0,0a4.0,4.0 0 1,0 -8.0,0M988.0,261.6a4.0,4.0 0 1,0 8.0,0a4.0,4.0 0 1,0 -8.0,0M987.9,262.0a4.0,4.0 0 1,0 8.0,0a4.0,4.0 0 1,0 -8.0,0M987.9,262.3a4.0,4.0 0 1,0 8.0,0a4.0,4.0 0 1,0 -8.0,0M987.9,262.5a4.0,4.0 0 1,0 8.0,0a4.0,4.0 0 1,0 -8.0,0M987.8,262.7a4.0,4.0 0 1,0 8.0,0a4.0,4.0 0 1,0 -8.0,0M987.8,262.9a4.0,4.0 0 1,0 8.0,0a4.0,4.0 0 1,0 -8.0,0M987.8,263.1a4.0,4.0 0 1,0 8.0,0a4.0,4.0 0 1,0 -8.0,0M987.8,263.2a4.0,4.0 0 1,0 8.0,0a4.0,4.0 0 1,0 -8.0,0M987.7,263.3a4.0,4.0 0 1,0 8.0,0a4.0,4.0 0 1,0 -8.0,0M987.7,263.4a4.0,4.0 0 1,0 8.0,0a4.0,4.0 0 1,0 -8.0,0M987.7,263.4a4.0,4.0 0 1,0 8.0,0a4.0,4.0 0 1,0 -8.0,0M987.7,263.5a4.0,4.0 0 1,0 8.0,0a4.0,4.0 0 1,0 -8.0,0M987.7,263.5a4.0,4.0 0 1,0 8.0,0a4.0,4.0 0 1,0 -8.0,0" fill="#000"/>
<path d="M746.0,263.7H1237.0M991.5,18.7V509.7" stroke="#000" stroke-width="3.5" fill="none"/>
<path d="M807.4,509.7v-8.0M807.4,18.7v8.0M868.8,509.7v-15.0M868.8,18.7v15.0M930.1,509.7v-8.0M930.1,18.7v8.0M1052.9,509.7v-8.0M1052.9,18.7v8.0M1114.2,509.7v-15.0M1114.2,18.7v15.0M1175.6,509.7v-8.0M1175.6,18.7v8.0M746.0,474.1h8.0M746.0,404.0h15.0M746.0,333.8h8.0M746.0,193.6h8.0M746.0,123.4h15.0M746.0,53.3h8.0M1237.0,427.4h-15.0M1237.0,345.5h-8.0M1237.0,181.9h-8.0M1237.0,100.0h-15.0" stroke="#000" stroke-width="3.2" fill="none"/>
<rect x="746.0" y="18.7" width="491.0" height="491.0" fill="none" stroke="#000" stroke-width="3.6"/>
<g font-size="30.1"><text transform="translate(732.0,133.5) scale(1,1.045)" text-anchor="end">4</text><text transform="translate(732.0,273.8) scale(1,1.045)" text-anchor="end">0</text><text transform="translate(732.0,414.1) scale(1,1.045)" text-anchor="end">-4</text><text transform="translate(746.0,549.9) scale(1,1.045)" text-anchor="middle">-1</text><text transform="translate(868.8,549.9) scale(1,1.045)" text-anchor="middle">-0.5</text><text transform="translate(991.5,549.9) scale(1,1.045)" text-anchor="middle">0</text><text transform="translate(1114.2,549.9) scale(1,1.045)" text-anchor="middle">0.5</text><text transform="translate(1237.0,549.9) scale(1,1.045)" text-anchor="middle">1</text><text transform="translate(991.5,584.7) scale(1,1.05)" text-anchor="middle" font-size="29.9">Field (T)</text><text transform="translate(681.0,264.2) rotate(-90) scale(1,1.02)" text-anchor="middle">IRM (10<tspan font-size="17" dy="-7.5">-3</tspan><tspan dy="7.5"> Am</tspan><tspan font-size="17" dy="-7.5">2</tspan><tspan dy="7.5">/kg)</tspan></text><text x="766.0" y="76.2" font-size="50">b</text><text transform="translate(807.7,76.1) scale(1,1.04)" font-size="29.8">B80</text><text x="1005.0" y="370.0" font-size="24.8">IRM<tspan font-size="14.6" dy="7.5">0.1T</tspan><tspan dy="-7.5" dx="0.8">/IRM</tspan><tspan font-size="14.6" dy="7.5">1T</tspan><tspan dy="-7.5" dx="0.8">=0.72</tspan></text><text x="1005.0" y="401.8" font-size="24.8">IRM<tspan font-size="14.6" dy="7.5">0.3T</tspan><tspan dy="-7.5" dx="0.8">/IRM</tspan><tspan font-size="14.6" dy="7.5">1T</tspan><tspan dy="-7.5" dx="0.8">=0.92</tspan></text><text x="1005.0" y="433.3" font-size="24.8"><tspan font-style="italic">B</tspan><tspan font-size="14.6" dy="7.5" font-style="italic">cr</tspan><tspan dy="-7.5">=34.7 mT</tspan></text><text x="1005.0" y="464.7" font-size="24.8">S-ratio=0.65</text></g>
<polyline points="1399.2,491.7 1420.3,490.9 1438.8,487.5 1456.4,487.5 1471.6,484.2 1486.7,481.6 1499.3,479.6 1511.9,477.4 1522.9,473.6 1533.3,470.2 1542.7,465.7 1552.3,461.8 1559.0,459.8 1565.8,455.6 1573.3,451.7 1579.2,447.2 1585.1,441.3 1590.1,436.2 1594.3,432.0 1598.5,424.5 1602.2,418.6 1605.6,411.0 1609.1,402.6 1612.8,395.0 1615.0,386.6 1617.0,376.5 1619.6,367.3 1622.1,357.2 1623.8,346.1 1625.5,334.5 1627.2,324.2 1628.8,313.5 1630.1,300.1 1631.3,286.3 1632.5,272.2 1633.5,258.0 1634.5,243.6 1635.3,229.7 1636.1,215.9 1636.9,202.3 1637.6,188.9 1638.2,175.9 1638.7,163.4 1639.3,151.3 1639.7,139.8 1640.2,129.0 1640.6,118.8 1640.9,109.4 1641.3,100.7 1641.6,92.7 1641.8,85.4 1642.1,78.8 1642.3,72.9 1642.6,67.7 1642.7,63.1 1642.9,59.1 1643.1,55.6 1643.2,52.6 1643.4,50.0 1643.5,47.8 1643.6,46.0 1643.7,44.5 1643.8,43.2 1643.9,42.2 1644.0,41.3 1644.1,40.6 1644.1,40.1 1644.2,39.6 1644.3,39.3 1644.3,39.0 1644.4,38.8 1644.4,38.7 1644.5,38.5 1644.5,38.4 1644.5,38.4 1644.6,38.3 1644.6,38.3 1644.6,38.2 1644.6,38.2 1644.7,38.2 1644.7,38.2 1644.7,38.2 1644.7,38.2 1644.7,38.2" fill="none" stroke="#000" stroke-width="2.0"/>
<polyline points="1890.2,37.3 1869.1,36.7 1850.8,40.5 1833.0,40.0 1816.8,42.7 1802.8,43.7 1788.7,47.0 1777.4,47.0 1765.5,49.7 1756.0,51.8 1746.6,51.8 1737.5,55.6 1730.5,56.5 1722.4,58.8 1717.0,61.0 1710.5,64.2 1704.0,67.5 1700.2,70.3 1695.5,73.3 1691.3,76.6 1687.4,80.1 1683.8,83.9 1680.5,88.1 1677.5,92.6 1674.8,97.4 1672.3,102.3 1670.0,107.5 1667.9,112.9 1666.0,118.4 1664.2,124.1 1662.6,130.0 1661.1,135.9 1659.7,141.9 1658.5,148.0 1657.3,154.1 1656.3,160.2 1655.3,166.3 1654.5,172.3 1653.7,178.2 1652.9,183.9 1652.2,189.6 1651.6,195.1 1651.1,200.4 1650.5,205.5 1650.1,210.3 1649.6,215.0 1649.2,219.4 1648.9,223.6 1648.5,227.5 1648.2,231.1 1648.0,234.5 1647.7,237.7 1647.5,240.6 1647.2,243.2 1647.1,245.6 1646.9,247.8 1646.7,249.8 1646.6,251.6 1646.4,253.2 1646.3,254.7 1646.2,255.9 1646.1,257.1 1646.0,258.0 1645.9,258.9 1645.8,259.7 1645.7,260.3 1645.7,260.9 1645.6,261.4 1645.5,261.8 1645.5,262.1 1645.4,262.4 1645.4,262.7 1645.3,262.9 1645.3,263.0 1645.3,263.2 1645.2,263.3 1645.2,263.4 1645.2,263.5 1645.2,263.5 1645.1,263.6 1645.1,263.6 1645.1,263.7 1645.1,263.7 1645.1,263.7" fill="none" stroke="#000" stroke-width="2.0"/>
<path d="M1395.2,491.7a4.0,4.0 0 1,0 8.0,0a4.0,4.0 0 1,0 -8.0,0M1416.3,490.9a4.0,4.0 0 1,0 8.0,0a4.0,4.0 0 1,0 -8.0,0M1434.8,487.5a4.0,4.0 0 1,0 8.0,0a4.0,4.0 0 1,0 -8.0,0M1452.4,487.5a4.0,4.0 0 1,0 8.0,0a4.0,4.0 0 1,0 -8.0,0M1467.6,484.2a4.0,4.0 0 1,0 8.0,0a4.0,4.0 0 1,0 -8.0,0M1482.7,481.6a4.0,4.0 0 1,0 8.0,0a4.0,4.0 0 1,0 -8.0,0M1495.3,479.6a4.0,4.0 0 1,0 8.0,0a4.0,4.0 0 1,0 -8.0,0M1507.9,477.4a4.0,4.0 0 1,0 8.0,0a4.0,4.0 0 1,0 -8.0,0M1518.9,473.6a4.0,4.0 0 1,0 8.0,0a4.0,4.0 0 1,0 -8.0,0M1529.3,470.2a4.0,4.0 0 1,0 8.0,0a4.0,4.0 0 1,0 -8.0,0M1538.7,465.7a4.0,4.0 0 1,0 8.0,0a4.0,4.0 0 1,0 -8.0,0M1548.3,461.8a4.0,4.0 0 1,0 8.0,0a4.0,4.0 0 1,0 -8.0,0M1555.0,459.8a4.0,4.0 0 1,0 8.0,0a4.0,4.0 0 1,0 -8.0,0M1561.8,455.6a4.0,4.0 0 1,0 8.0,0a4.0,4.0 0 1,0 -8.0,0M1569.3,451.7a4.0,4.0 0 1,0 8.0,0a4.0,4.0 0 1,0 -8.0,0M1575.2,447.2a4.0,4.0 0 1,0 8.0,0a4.0,4.0 0 1,0 -8.0,0M1581.1,441.3a4.0,4.0 0 1,0 8.0,0a4.0,4.0 0 1,0 -8.0,0M1586.1,436.2a4.0,4.0 0 1,0 8.0,0a4.0,4.0 0 1,0 -8.0,0M1590.3,432.0a4.0,4.0 0 1,0 8.0,0a4.0,4.0 0 1,0 -8.0,0M1594.5,424.5a4.0,4.0 0 1,0 8.0,0a4.0,4.0 0 1,0 -8.0,0M1598.2,418.6a4.0,4.0 0 1,0 8.0,0a4.0,4.0 0 1,0 -8.0,0M1601.6,411.0a4.0,4.0 0 1,0 8.0,0a4.0,4.0 0 1,0 -8.0,0M1605.1,402.6a4.0,4.0 0 1,0 8.0,0a4.0,4.0 0 1,0 -8.0,0M1608.8,395.0a4.0,4.0 0 1,0 8.0,0a4.0,4.0 0 1,0 -8.0,0M1611.0,386.6a4.0,4.0 0 1,0 8.0,0a4.0,4.0 0 1,0 -8.0,0M1613.0,376.5a4.0,4.0 0 1,0 8.0,0a4.0,4.0 0 1,0 -8.0,0M1615.6,367.3a4.0,4.0 0 1,0 8.0,0a4.0,4.0 0 1,0 -8.0,0M1618.1,357.2a4.0,4.0 0 1,0 8.0,0a4.0,4.0 0 1,0 -8.0,0M1619.8,346.1a4.0,4.0 0 1,0 8.0,0a4.0,4.0 0 1,0 -8.0,0M1621.5,334.5a4.0,4.0 0 1,0 8.0,0a4.0,4.0 0 1,0 -8.0,0M1623.2,324.2a4.0,4.0 0 1,0 8.0,0a4.0,4.0 0 1,0 -8.0,0M1624.8,313.5a4.0,4.0 0 1,0 8.0,0a4.0,4.0 0 1,0 -8.0,0M1626.1,300.1a4.0,4.0 0 1,0 8.0,0a4.0,4.0 0 1,0 -8.0,0M1627.3,286.3a4.0,4.0 0 1,0 8.0,0a4.0,4.0 0 1,0 -8.0,0M1628.5,272.2a4.0,4.0 0 1,0 8.0,0a4.0,4.0 0 1,0 -8.0,0M1629.5,258.0a4.0,4.0 0 1,0 8.0,0a4.0,4.0 0 1,0 -8.0,0M1630.5,243.6a4.0,4.0 0 1,0 8.0,0a4.0,4.0 0 1,0 -8.0,0M1631.3,229.7a4.0,4.0 0 1,0 8.0,0a4.0,4.0 0 1,0 -8.0,0M1632.1,215.9a4.0,4.0 0 1,0 8.0,0a4.0,4.0 0 1,0 -8.0,0M1632.9,202.3a4.0,4.0 0 1,0 8.0,0a4.0,4.0 0 1,0 -8.0,0M1633.6,188.9a4.0,4.0 0 1,0 8.0,0a4.0,4.0 0 1,0 -8.0,0M1634.2,175.9a4.0,4.0 0 1,0 8.0,0a4.0,4.0 0 1,0 -8.0,0M1634.7,163.4a4.0,4.0 0 1,0 8.0,0a4.0,4.0 0 1,0 -8.0,0M1635.3,151.3a4.0,4.0 0 1,0 8.0,0a4.0,4.0 0 1,0 -8.0,0M1635.7,139.8a4.0,4.0 0 1,0 8.0,0a4.0,4.0 0 1,0 -8.0,0M1636.2,129.0a4.0,4.0 0 1,0 8.0,0a4.0,4.0 0 1,0 -8.0,0M1636.6,118.8a4.0,4.0 0 1,0 8.0,0a4.0,4.0 0 1,0 -8.0,0M1636.9,109.4a4.0,4.0 0 1,0 8.0,0a4.0,4.0 0 1,0 -8.0,0M1637.3,100.7a4.0,4.0 0 1,0 8.0,0a4.0,4.0 0 1,0 -8.0,0M1637.6,92.7a4.0,4.0 0 1,0 8.0,0a4.0,4.0 0 1,0 -8.0,0M1637.8,85.4a4.0,4.0 0 1,0 8.0,0a4.0,4.0 0 1,0 -8.0,0M1638.1,78.8a4.0,4.0 0 1,0 8.0,0a4.0,4.0 0 1,0 -8.0,0M1638.3,72.9a4.0,4.0 0 1,0 8.0,0a4.0,4.0 0 1,0 -8.0,0M1638.6,67.7a4.0,4.0 0 1,0 8.0,0a4.0,4.0 0 1,0 -8.0,0M1638.7,63.1a4.0,4.0 0 1,0 8.0,0a4.0,4.0 0 1,0 -8.0,0M1638.9,59.1a4.0,4.0 0 1,0 8.0,0a4.0,4.0 0 1,0 -8.0,0M1639.1,55.6a4.0,4.0 0 1,0 8.0,0a4.0,4.0 0 1,0 -8.0,0M1639.2,52.6a4.0,4.0 0 1,0 8.0,0a4.0,4.0 0 1,0 -8.0,0M1639.4,50.0a4.0,4.0 0 1,0 8.0,0a4.0,4.0 0 1,0 -8.0,0M1639.5,47.8a4.0,4.0 0 1,0 8.0,0a4.0,4.0 0 1,0 -8.0,0M1639.6,46.0a4.0,4.0 0 1,0 8.0,0a4.0,4.0 0 1,0 -8.0,0M1639.7,44.5a4.0,4.0 0 1,0 8.0,0a4.0,4.0 0 1,0 -8.0,0M1639.8,43.2a4.0,4.0 0 1,0 8.0,0a4.0,4.0 0 1,0 -8.0,0M1639.9,42.2a4.0,4.0 0 1,0 8.0,0a4.0,4.0 0 1,0 -8.0,0M1640.0,41.3a4.0,4.0 0 1,0 8.0,0a4.0,4.0 0 1,0 -8.0,0M1640.1,40.6a4.0,4.0 0 1,0 8.0,0a4.0,4.0 0 1,0 -8.0,0M1640.1,40.1a4.0,4.0 0 1,0 8.0,0a4.0,4.0 0 1,0 -8.0,0M1640.2,39.6a4.0,4.0 0 1,0 8.0,0a4.0,4.0 0 1,0 -8.0,0M1640.3,39.3a4.0,4.0 0 1,0 8.0,0a4.0,4.0 0 1,0 -8.0,0M1640.3,39.0a4.0,4.0 0 1,0 8.0,0a4.0,4.0 0 1,0 -8.0,0M1640.4,38.8a4.0,4.0 0 1,0 8.0,0a4.0,4.0 0 1,0 -8.0,0M1640.4,38.7a4.0,4.0 0 1,0 8.0,0a4.0,4.0 0 1,0 -8.0,0M1640.5,38.5a4.0,4.0 0 1,0 8.0,0a4.0,4.0 0 1,0 -8.0,0M1640.5,38.4a4.0,4.0 0 1,0 8.0,0a4.0,4.0 0 1,0 -8.0,0M1640.5,38.4a4.0,4.0 0 1,0 8.0,0a4.0,4.0 0 1,0 -8.0,0M1640.6,38.3a4.0,4.0 0 1,0 8.0,0a4.0,4.0 0 1,0 -8.0,0M1640.6,38.3a4.0,4.0 0 1,0 8.0,0a4.0,4.0 0 1,0 -8.0,0M1640.6,38.2a4.0,4.0 0 1,0 8.0,0a4.0,4.0 0 1,0 -8.0,0M1640.6,38.2a4.0,4.0 0 1,0 8.0,0a4.0,4.0 0 1,0 -8.0,0M1640.7,38.2a4.0,4.0 0 1,0 8.0,0a4.0,4.0 0 1,0 -8.0,0M1640.7,38.2a4.0,4.0 0 1,0 8.0,0a4.0,4.0 0 1,0 -8.0,0M1640.7,38.2a4.0,4.0 0 1,0 8.0,0a4.0,4.0 0 1,0 -8.0,0M1640.7,38.2a4.0,4.0 0 1,0 8.0,0a4.0,4.0 0 1,0 -8.0,0M1640.7,38.2a4.0,4.0 0 1,0 8.0,0a4.0,4.0 0 1,0 -8.0,0M1886.2,37.3a4.0,4.0 0 1,0 8.0,0a4.0,4.0 0 1,0 -8.0,0M1865.1,36.7a4.0,4.0 0 1,0 8.0,0a4.0,4.0 0 1,0 -8.0,0M1846.8,40.5a4.0,4.0 0 1,0 8.0,0a4.0,4.0 0 1,0 -8.0,0M1829.0,40.0a4.0,4.0 0 1,0 8.0,0a4.0,4.0 0 1,0 -8.0,0M1812.8,42.7a4.0,4.0 0 1,0 8.0,0a4.0,4.0 0 1,0 -8.0,0M1798.8,43.7a4.0,4.0 0 1,0 8.0,0a4.0,4.0 0 1,0 -8.0,0M1784.7,47.0a4.0,4.0 0 1,0 8.0,0a4.0,4.0 0 1,0 -8.0,0M1773.4,47.0a4.0,4.0 0 1,0 8.0,0a4.0,4.0 0 1,0 -8.0,0M1761.5,49.7a4.0,4.0 0 1,0 8.0,0a4.0,4.0 0 1,0 -8.0,0M1752.0,51.8a4.0,4.0 0 1,0 8.0,0a4.0,4.0 0 1,0 -8.0,0M1742.6,51.8a4.0,4.0 0 1,0 8.0,0a4.0,4.0 0 1,0 -8.0,0M1733.5,55.6a4.0,4.0 0 1,0 8.0,0a4.0,4.0 0 1,0 -8.0,0M1726.5,56.5a4.0,4.0 0 1,0 8.0,0a4.0,4.0 0 1,0 -8.0,0M1718.4,58.8a4.0,4.0 0 1,0 8.0,0a4.0,4.0 0 1,0 -8.0,0M1713.0,61.0a4.0,4.0 0 1,0 8.0,0a4.0,4.0 0 1,0 -8.0,0M1706.5,64.2a4.0,4.0 0 1,0 8.0,0a4.0,4.0 0 1,0 -8.0,0M1700.0,67.5a4.0,4.0 0 1,0 8.0,0a4.0,4.0 0 1,0 -8.0,0M1696.2,70.3a4.0,4.0 0 1,0 8.0,0a4.0,4.0 0 1,0 -8.0,0M1691.5,73.3a4.0,4.0 0 1,0 8.0,0a4.0,4.0 0 1,0 -8.0,0M1687.3,76.6a4.0,4.0 0 1,0 8.0,0a4.0,4.0 0 1,0 -8.0,0M1683.4,80.1a4.0,4.0 0 1,0 8.0,0a4.0,4.0 0 1,0 -8.0,0M1679.8,83.9a4.0,4.0 0 1,0 8.0,0a4.0,4.0 0 1,0 -8.0,0M1676.5,88.1a4.0,4.0 0 1,0 8.0,0a4.0,4.0 0 1,0 -8.0,0M1673.5,92.6a4.0,4.0 0 1,0 8.0,0a4.0,4.0 0 1,0 -8.0,0M1670.8,97.4a4.0,4.0 0 1,0 8.0,0a4.0,4.0 0 1,0 -8.0,0M1668.3,102.3a4.0,4.0 0 1,0 8.0,0a4.0,4.0 0 1,0 -8.0,0M1666.0,107.5a4.0,4.0 0 1,0 8.0,0a4.0,4.0 0 1,0 -8.0,0M1663.9,112.9a4.0,4.0 0 1,0 8.0,0a4.0,4.0 0 1,0 -8.0,0M1662.0,118.4a4.0,4.0 0 1,0 8.0,0a4.0,4.0 0 1,0 -8.0,0M1660.2,124.1a4.0,4.0 0 1,0 8.0,0a4.0,4.0 0 1,0 -8.0,0M1658.6,130.0a4.0,4.0 0 1,0 8.0,0a4.0,4.0 0 1,0 -8.0,0M1657.1,135.9a4.0,4.0 0 1,0 8.0,0a4.0,4.0 0 1,0 -8.0,0M1655.7,141.9a4.0,4.0 0 1,0 8.0,0a4.0,4.0 0 1,0 -8.0,0M1654.5,148.0a4.0,4.0 0 1,0 8.0,0a4.0,4.0 0 1,0 -8.0,0M1653.3,154.1a4.0,4.0 0 1,0 8.0,0a4.0,4.0 0 1,0 -8.0,0M1652.3,160.2a4.0,4.0 0 1,0 8.0,0a4.0,4.0 0 1,0 -8.0,0M1651.3,166.3a4.0,4.0 0 1,0 8.0,0a4.0,4.0 0 1,0 -8.0,0M1650.5,172.3a4.0,4.0 0 1,0 8.0,0a4.0,4.0 0 1,0 -8.0,0M1649.7,178.2a4.0,4.0 0 1,0 8.0,0a4.0,4.0 0 1,0 -8.0,0M1648.9,183.9a4.0,4.0 0 1,0 8.0,0a4.0,4.0 0 1,0 -8.0,0M1648.2,189.6a4.0,4.0 0 1,0 8.0,0a4.0,4.0 0 1,0 -8.0,0M1647.6,195.1a4.0,4.0 0 1,0 8.0,0a4.0,4.0 0 1,0 -8.0,0M1647.1,200.4a4.0,4.0 0 1,0 8.0,0a4.0,4.0 0 1,0 -8.0,0M1646.5,205.5a4.0,4.0 0 1,0 8.0,0a4.0,4.0 0 1,0 -8.0,0M1646.1,210.3a4.0,4.0 0 1,0 8.0,0a4.0,4.0 0 1,0 -8.0,0M1645.6,215.0a4.0,4.0 0 1,0 8.0,0a4.0,4.0 0 1,0 -8.0,0M1645.2,219.4a4.0,4.0 0 1,0 8.0,0a4.0,4.0 0 1,0 -8.0,0M1644.9,223.6a4.0,4.0 0 1,0 8.0,0a4.0,4.0 0 1,0 -8.0,0M1644.5,227.5a4.0,4.0 0 1,0 8.0,0a4.0,4.0 0 1,0 -8.0,0M1644.2,231.1a4.0,4.0 0 1,0 8.0,0a4.0,4.0 0 1,0 -8.0,0M1644.0,234.5a4.0,4.0 0 1,0 8.0,0a4.0,4.0 0 1,0 -8.0,0M1643.7,237.7a4.0,4.0 0 1,0 8.0,0a4.0,4.0 0 1,0 -8.0,0M1643.5,240.6a4.0,4.0 0 1,0 8.0,0a4.0,4.0 0 1,0 -8.0,0M1643.2,243.2a4.0,4.0 0 1,0 8.0,0a4.0,4.0 0 1,0 -8.0,0M1643.1,245.6a4.0,4.0 0 1,0 8.0,0a4.0,4.0 0 1,0 -8.0,0M1642.9,247.8a4.0,4.0 0 1,0 8.0,0a4.0,4.0 0 1,0 -8.0,0M1642.7,249.8a4.0,4.0 0 1,0 8.0,0a4.0,4.0 0 1,0 -8.0,0M1642.6,251.6a4.0,4.0 0 1,0 8.0,0a4.0,4.0 0 1,0 -8.0,0M1642.4,253.2a4.0,4.0 0 1,0 8.0,0a4.0,4.0 0 1,0 -8.0,0M1642.3,254.7a4.0,4.0 0 1,0 8.0,0a4.0,4.0 0 1,0 -8.0,0M1642.2,255.9a4.0,4.0 0 1,0 8.0,0a4.0,4.0 0 1,0 -8.0,0M1642.1,257.1a4.0,4.0 0 1,0 8.0,0a4.0,4.0 0 1,0 -8.0,0M1642.0,258.0a4.0,4.0 0 1,0 8.0,0a4.0,4.0 0 1,0 -8.0,0M1641.9,258.9a4.0,4.0 0 1,0 8.0,0a4.0,4.0 0 1,0 -8.0,0M1641.8,259.7a4.0,4.0 0 1,0 8.0,0a4.0,4.0 0 1,0 -8.0,0M1641.7,260.3a4.0,4.0 0 1,0 8.0,0a4.0,4.0 0 1,0 -8.0,0M1641.7,260.9a4.0,4.0 0 1,0 8.0,0a4.0,4.0 0 1,0 -8.0,0M1641.6,261.4a4.0,4.0 0 1,0 8.0,0a4.0,4.0 0 1,0 -8.0,0M1641.5,261.8a4.0,4.0 0 1,0 8.0,0a4.0,4.0 0 1,0 -8.0,0M1641.5,262.1a4.0,4.0 0 1,0 8.0,0a4.0,4.0 0 1,0 -8.0,0M1641.4,262.4a4.0,4.0 0 1,0 8.0,0a4.0,4.0 0 1,0 -8.0,0M1641.4,262.7a4.0,4.0 0 1,0 8.0,0a4.0,4.0 0 1,0 -8.0,0M1641.3,262.9a4.0,4.0 0 1,0 8.0,0a4.0,4.0 0 1,0 -8.0,0M1641.3,263.0a4.0,4.0 0 1,0 8.0,0a4.0,4.0 0 1,0 -8.0,0M1641.3,263.2a4.0,4.0 0 1,0 8.0,0a4.0,4.0 0 1,0 -8.0,0M1641.2,263.3a4.0,4.0 0 1,0 8.0,0a4.0,4.0 0 1,0 -8.0,0M1641.2,263.4a4.0,4.0 0 1,0 8.0,0a4.0,4.0 0 1,0 -8.0,0M1641.2,263.5a4.0,4.0 0 1,0 8.0,0a4.0,4.0 0 1,0 -8.0,0M1641.2,263.5a4.0,4.0 0 1,0 8.0,0a4.0,4.0 0 1,0 -8.0,0M1641.1,263.6a4.0,4.0 0 1,0 8.0,0a4.0,4.0 0 1,0 -8.0,0M1641.1,263.6a4.0,4.0 0 1,0 8.0,0a4.0,4.0 0 1,0 -8.0,0M1641.1,263.7a4.0,4.0 0 1,0 8.0,0a4.0,4.0 0 1,0 -8.0,0M1641.1,263.7a4.0,4.0 0 1,0 8.0,0a4.0,4.0 0 1,0 -8.0,0M1641.1,263.7a4.0,4.0 0 1,0 8.0,0a4.0,4.0 0 1,0 -8.0,0" fill="#000"/>
<path d="M1399.3,263.8H1890.5M1644.9,18.7V509.7" stroke="#000" stroke-width="3.5" fill="none"/>
<path d="M1460.7,509.7v-8.0M1460.7,18.7v8.0M1522.1,509.7v-15.0M1522.1,18.7v15.0M1583.5,509.7v-8.0M1583.5,18.7v8.0M1706.3,509.7v-8.0M1706.3,18.7v8.0M1767.7,509.7v-15.0M1767.7,18.7v15.0M1829.1,509.7v-8.0M1829.1,18.7v8.0M1399.3,447.9h8.0M1399.3,386.6h15.0M1399.3,325.2h8.0M1399.3,202.4h8.0M1399.3,141.1h15.0M1399.3,79.7h8.0M1890.5,474.2h-8.0M1890.5,404.1h-15.0M1890.5,333.9h-8.0M1890.5,193.7h-8.0M1890.5,123.5h-15.0M1890.5,53.4h-8.0" stroke="#000" stroke-width="3.2" fill="none"/>
<rect x="1399.3" y="18.7" width="491.2" height="491.0" fill="none" stroke="#000" stroke-width="3.6"/>
<g font-size="30.1"><text transform="translate(1385.3,28.4) scale(1,1.045)" text-anchor="end">4</text><text transform="translate(1385.3,151.2) scale(1,1.045)" text-anchor="end">2</text><text transform="translate(1385.3,273.9) scale(1,1.045)" text-anchor="end">0</text><text transform="translate(1385.3,396.7) scale(1,1.045)" text-anchor="end">-2</text><text transform="translate(1385.3,519.4) scale(1,1.045)" text-anchor="end">-4</text><text transform="translate(1399.3,549.9) scale(1,1.045)" text-anchor="middle">-1</text><text transform="translate(1522.1,549.9) scale(1,1.045)" text-anchor="middle">-0.5</text><text transform="translate(1644.9,549.9) scale(1,1.045)" text-anchor="middle">0</text><text transform="translate(1767.7,549.9) scale(1,1.045)" text-anchor="middle">0.5</text><text transform="translate(1890.5,549.9) scale(1,1.045)" text-anchor="middle">1</text><text transform="translate(1644.9,584.7) scale(1,1.05)" text-anchor="middle" font-size="29.9">Field (T)</text><text transform="translate(1334.3,264.2) rotate(-90) scale(1,1.02)" text-anchor="middle">IRM (10<tspan font-size="17" dy="-7.5">-3</tspan><tspan dy="7.5"> Am</tspan><tspan font-size="17" dy="-7.5">2</tspan><tspan dy="7.5">/kg)</tspan></text><text x="1419.3" y="76.2" font-size="50">c</text><text transform="translate(1458.2,76.1) scale(1,1.04)" font-size="29.8">B120</text><text x="1658.3" y="370.0" font-size="24.8">IRM<tspan font-size="14.6" dy="7.5">0.1T</tspan><tspan dy="-7.5" dx="0.8">/IRM</tspan><tspan font-size="14.6" dy="7.5">1T</tspan><tspan dy="-7.5" dx="0.8">=0.67</tspan></text><text x="1658.3" y="401.8" font-size="24.8">IRM<tspan font-size="14.6" dy="7.5">0.3T</tspan><tspan dy="-7.5" dx="0.8">/IRM</tspan><tspan font-size="14.6" dy="7.5">1T</tspan><tspan dy="-7.5" dx="0.8">=0.89</tspan></text><text x="1658.3" y="433.3" font-size="24.8"><tspan font-style="italic">B</tspan><tspan font-size="14.6" dy="7.5" font-style="italic">cr</tspan><tspan dy="-7.5">=45.1 mT</tspan></text><text x="1658.3" y="464.7" font-size="24.8">S-ratio=0.64</text></g>
<polyline points="92.1,1080.9 113.6,1079.7 132.4,1076.3 149.7,1077.5 166.1,1073.0 180.0,1070.8 194.0,1068.3 205.8,1064.9 217.0,1061.5 226.6,1058.7 235.9,1055.7 245.1,1053.1 253.2,1049.8 260.8,1043.9 266.3,1040.5 273.7,1035.5 278.4,1030.9 284.0,1027.9 288.8,1020.3 292.2,1015.8 297.2,1010.2 300.3,1001.8 302.5,996.0 305.8,988.4 308.7,980.0 310.4,971.1 312.9,960.6 315.4,951.4 317.9,939.6 318.8,930.4 321.3,918.6 322.1,907.7 323.7,893.9 324.9,879.7 326.1,865.2 327.1,850.4 328.1,835.5 328.9,821.2 329.7,807.0 330.5,793.0 331.2,779.3 331.8,766.0 332.3,753.1 332.9,740.8 333.3,729.2 333.8,718.2 334.2,708.0 334.5,698.6 334.9,689.9 335.2,682.0 335.4,674.9 335.7,668.6 335.9,663.0 336.2,658.0 336.4,653.7 336.5,650.0 336.7,646.8 336.8,644.1 337.0,641.8 337.1,639.9 337.2,638.3 337.3,637.0 337.4,635.9 337.5,635.1 337.6,634.4 337.7,633.9 337.7,633.4 337.8,633.1 337.9,632.9 337.9,632.7 338.0,632.5 338.0,632.4 338.1,632.3 338.1,632.2 338.1,632.2 338.2,632.2 338.2,632.1 338.2,632.1 338.2,632.1 338.3,632.1 338.3,632.1 338.3,632.1 338.3,632.1 338.3,632.1" fill="none" stroke="#000" stroke-width="2.0"/>
<polyline points="583.0,631.3 562.0,632.4 543.6,633.5 525.8,634.6 511.0,636.0 495.6,637.0 482.6,639.2 470.2,640.3 459.4,644.0 449.2,645.0 440.0,647.5 430.9,649.7 423.8,650.8 416.8,652.9 409.8,655.6 404.3,657.6 398.0,659.9 393.7,662.9 389.1,666.1 384.8,669.5 381.0,672.9 377.4,676.6 374.1,680.5 371.1,684.6 368.4,689.0 365.9,693.6 363.6,698.4 361.5,703.4 359.5,708.5 357.8,713.8 356.2,719.3 354.7,724.9 353.3,730.5 352.1,736.2 350.9,742.0 349.9,747.7 348.9,753.5 348.1,759.2 347.3,764.9 346.5,770.5 345.8,776.0 345.2,781.3 344.7,786.5 344.1,791.6 343.7,796.4 343.2,801.1 342.8,805.5 342.5,809.8 342.1,813.8 341.8,817.5 341.6,821.1 341.3,824.4 341.1,827.5 340.8,830.4 340.6,833.0 340.5,835.4 340.3,837.6 340.2,839.7 340.0,841.5 339.9,843.1 339.8,844.6 339.7,845.9 339.6,847.1 339.5,848.2 339.4,849.1 339.3,849.9 339.3,850.6 339.2,851.2 339.1,851.8 339.1,852.2 339.0,852.6 339.0,853.0 338.9,853.3 338.9,853.5 338.9,853.7 338.8,853.9 338.8,854.0 338.8,854.2 338.8,854.3 338.7,854.3 338.7,854.4 338.7,854.5 338.7,854.5 338.7,854.6" fill="none" stroke="#000" stroke-width="2.0"/>
<path d="M88.1,1080.9a4.0,4.0 0 1,0 8.0,0a4.0,4.0 0 1,0 -8.0,0M109.6,1079.7a4.0,4.0 0 1,0 8.0,0a4.0,4.0 0 1,0 -8.0,0M128.4,1076.3a4.0,4.0 0 1,0 8.0,0a4.0,4.0 0 1,0 -8.0,0M145.7,1077.5a4.0,4.0 0 1,0 8.0,0a4.0,4.0 0 1,0 -8.0,0M162.1,1073.0a4.0,4.0 0 1,0 8.0,0a4.0,4.0 0 1,0 -8.0,0M176.0,1070.8a4.0,4.0 0 1,0 8.0,0a4.0,4.0 0 1,0 -8.0,0M190.0,1068.3a4.0,4.0 0 1,0 8.0,0a4.0,4.0 0 1,0 -8.0,0M201.8,1064.9a4.0,4.0 0 1,0 8.0,0a4.0,4.0 0 1,0 -8.0,0M213.0,1061.5a4.0,4.0 0 1,0 8.0,0a4.0,4.0 0 1,0 -8.0,0M222.6,1058.7a4.0,4.0 0 1,0 8.0,0a4.0,4.0 0 1,0 -8.0,0M231.9,1055.7a4.0,4.0 0 1,0 8.0,0a4.0,4.0 0 1,0 -8.0,0M241.1,1053.1a4.0,4.0 0 1,0 8.0,0a4.0,4.0 0 1,0 -8.0,0M249.2,1049.8a4.0,4.0 0 1,0 8.0,0a4.0,4.0 0 1,0 -8.0,0M256.8,1043.9a4.0,4.0 0 1,0 8.0,0a4.0,4.0 0 1,0 -8.0,0M262.3,1040.5a4.0,4.0 0 1,0 8.0,0a4.0,4.0 0 1,0 -8.0,0M269.7,1035.5a4.0,4.0 0 1,0 8.0,0a4.0,4.0 0 1,0 -8.0,0M274.4,1030.9a4.0,4.0 0 1,0 8.0,0a4.0,4.0 0 1,0 -8.0,0M280.0,1027.9a4.0,4.0 0 1,0 8.0,0a4.0,4.0 0 1,0 -8.0,0M284.8,1020.3a4.0,4.0 0 1,0 8.0,0a4.0,4.0 0 1,0 -8.0,0M288.2,1015.8a4.0,4.0 0 1,0 8.0,0a4.0,4.0 0 1,0 -8.0,0M293.2,1010.2a4.0,4.0 0 1,0 8.0,0a4.0,4.0 0 1,0 -8.0,0M296.3,1001.8a4.0,4.0 0 1,0 8.0,0a4.0,4.0 0 1,0 -8.0,0M298.5,996.0a4.0,4.0 0 1,0 8.0,0a4.0,4.0 0 1,0 -8.0,0M301.8,988.4a4.0,4.0 0 1,0 8.0,0a4.0,4.0 0 1,0 -8.0,0M304.7,980.0a4.0,4.0 0 1,0 8.0,0a4.0,4.0 0 1,0 -8.0,0M306.4,971.1a4.0,4.0 0 1,0 8.0,0a4.0,4.0 0 1,0 -8.0,0M308.9,960.6a4.0,4.0 0 1,0 8.0,0a4.0,4.0 0 1,0 -8.0,0M311.4,951.4a4.0,4.0 0 1,0 8.0,0a4.0,4.0 0 1,0 -8.0,0M313.9,939.6a4.0,4.0 0 1,0 8.0,0a4.0,4.0 0 1,0 -8.0,0M314.8,930.4a4.0,4.0 0 1,0 8.0,0a4.0,4.0 0 1,0 -8.0,0M317.3,918.6a4.0,4.0 0 1,0 8.0,0a4.0,4.0 0 1,0 -8.0,0M318.1,907.7a4.0,4.0 0 1,0 8.0,0a4.0,4.0 0 1,0 -8.0,0M319.7,893.9a4.0,4.0 0 1,0 8.0,0a4.0,4.0 0 1,0 -8.0,0M320.9,879.7a4.0,4.0 0 1,0 8.0,0a4.0,4.0 0 1,0 -8.0,0M322.1,865.2a4.0,4.0 0 1,0 8.0,0a4.0,4.0 0 1,0 -8.0,0M323.1,850.4a4.0,4.0 0 1,0 8.0,0a4.0,4.0 0 1,0 -8.0,0M324.1,835.5a4.0,4.0 0 1,0 8.0,0a4.0,4.0 0 1,0 -8.0,0M324.9,821.2a4.0,4.0 0 1,0 8.0,0a4.0,4.0 0 1,0 -8.0,0M325.7,807.0a4.0,4.0 0 1,0 8.0,0a4.0,4.0 0 1,0 -8.0,0M326.5,793.0a4.0,4.0 0 1,0 8.0,0a4.0,4.0 0 1,0 -8.0,0M327.2,779.3a4.0,4.0 0 1,0 8.0,0a4.0,4.0 0 1,0 -8.0,0M327.8,766.0a4.0,4.0 0 1,0 8.0,0a4.0,4.0 0 1,0 -8.0,0M328.3,753.1a4.0,4.0 0 1,0 8.0,0a4.0,4.0 0 1,0 -8.0,0M328.9,740.8a4.0,4.0 0 1,0 8.0,0a4.0,4.0 0 1,0 -8.0,0M329.3,729.2a4.0,4.0 0 1,0 8.0,0a4.0,4.0 0 1,0 -8.0,0M329.8,718.2a4.0,4.0 0 1,0 8.0,0a4.0,4.0 0 1,0 -8.0,0M330.2,708.0a4.0,4.0 0 1,0 8.0,0a4.0,4.0 0 1,0 -8.0,0M330.5,698.6a4.0,4.0 0 1,0 8.0,0a4.0,4.0 0 1,0 -8.0,0M330.9,689.9a4.0,4.0 0 1,0 8.0,0a4.0,4.0 0 1,0 -8.0,0M331.2,682.0a4.0,4.0 0 1,0 8.0,0a4.0,4.0 0 1,0 -8.0,0M331.4,674.9a4.0,4.0 0 1,0 8.0,0a4.0,4.0 0 1,0 -8.0,0M331.7,668.6a4.0,4.0 0 1,0 8.0,0a4.0,4.0 0 1,0 -8.0,0M331.9,663.0a4.0,4.0 0 1,0 8.0,0a4.0,4.0 0 1,0 -8.0,0M332.2,658.0a4.0,4.0 0 1,0 8.0,0a4.0,4.0 0 1,0 -8.0,0M332.4,653.7a4.0,4.0 0 1,0 8.0,0a4.0,4.0 0 1,0 -8.0,0M332.5,650.0a4.0,4.0 0 1,0 8.0,0a4.0,4.0 0 1,0 -8.0,0M332.7,646.8a4.0,4.0 0 1,0 8.0,0a4.0,4.0 0 1,0 -8.0,0M332.8,644.1a4.0,4.0 0 1,0 8.0,0a4.0,4.0 0 1,0 -8.0,0M333.0,641.8a4.0,4.0 0 1,0 8.0,0a4.0,4.0 0 1,0 -8.0,0M333.1,639.9a4.0,4.0 0 1,0 8.0,0a4.0,4.0 0 1,0 -8.0,0M333.2,638.3a4.0,4.0 0 1,0 8.0,0a4.0,4.0 0 1,0 -8.0,0M333.3,637.0a4.0,4.0 0 1,0 8.0,0a4.0,4.0 0 1,0 -8.0,0M333.4,635.9a4.0,4.0 0 1,0 8.0,0a4.0,4.0 0 1,0 -8.0,0M333.5,635.1a4.0,4.0 0 1,0 8.0,0a4.0,4.0 0 1,0 -8.0,0M333.6,634.4a4.0,4.0 0 1,0 8.0,0a4.0,4.0 0 1,0 -8.0,0M333.7,633.9a4.0,4.0 0 1,0 8.0,0a4.0,4.0 0 1,0 -8.0,0M333.7,633.4a4.0,4.0 0 1,0 8.0,0a4.0,4.0 0 1,0 -8.0,0M333.8,633.1a4.0,4.0 0 1,0 8.0,0a4.0,4.0 0 1,0 -8.0,0M333.9,632.9a4.0,4.0 0 1,0 8.0,0a4.0,4.0 0 1,0 -8.0,0M333.9,632.7a4.0,4.0 0 1,0 8.0,0a4.0,4.0 0 1,0 -8.0,0M334.0,632.5a4.0,4.0 0 1,0 8.0,0a4.0,4.0 0 1,0 -8.0,0M334.0,632.4a4.0,4.0 0 1,0 8.0,0a4.0,4.0 0 1,0 -8.0,0M334.1,632.3a4.0,4.0 0 1,0 8.0,0a4.0,4.0 0 1,0 -8.0,0M334.1,632.2a4.0,4.0 0 1,0 8.0,0a4.0,4.0 0 1,0 -8.0,0M334.1,632.2a4.0,4.0 0 1,0 8.0,0a4.0,4.0 0 1,0 -8.0,0M334.2,632.2a4.0,4.0 0 1,0 8.0,0a4.0,4.0 0 1,0 -8.0,0M334.2,632.1a4.0,4.0 0 1,0 8.0,0a4.0,4.0 0 1,0 -8.0,0M334.2,632.1a4.0,4.0 0 1,0 8.0,0a4.0,4.0 0 1,0 -8.0,0M334.2,632.1a4.0,4.0 0 1,0 8.0,0a4.0,4.0 0 1,0 -8.0,0M334.3,632.1a4.0,4.0 0 1,0 8.0,0a4.0,4.0 0 1,0 -8.0,0M334.3,632.1a4.0,4.0 0 1,0 8.0,0a4.0,4.0 0 1,0 -8.0,0M334.3,632.1a4.0,4.0 0 1,0 8.0,0a4.0,4.0 0 1,0 -8.0,0M334.3,632.1a4.0,4.0 0 1,0 8.0,0a4.0,4.0 0 1,0 -8.0,0M334.3,632.1a4.0,4.0 0 1,0 8.0,0a4.0,4.0 0 1,0 -8.0,0M579.0,631.3a4.0,4.0 0 1,0 8.0,0a4.0,4.0 0 1,0 -8.0,0M558.0,632.4a4.0,4.0 0 1,0 8.0,0a4.0,4.0 0 1,0 -8.0,0M539.6,633.5a4.0,4.0 0 1,0 8.0,0a4.0,4.0 0 1,0 -8.0,0M521.8,634.6a4.0,4.0 0 1,0 8.0,0a4.0,4.0 0 1,0 -8.0,0M507.0,636.0a4.0,4.0 0 1,0 8.0,0a4.0,4.0 0 1,0 -8.0,0M491.6,637.0a4.0,4.0 0 1,0 8.0,0a4.0,4.0 0 1,0 -8.0,0M478.6,639.2a4.0,4.0 0 1,0 8.0,0a4.0,4.0 0 1,0 -8.0,0M466.2,640.3a4.0,4.0 0 1,0 8.0,0a4.0,4.0 0 1,0 -8.0,0M455.4,644.0a4.0,4.0 0 1,0 8.0,0a4.0,4.0 0 1,0 -8.0,0M445.2,645.0a4.0,4.0 0 1,0 8.0,0a4.0,4.0 0 1,0 -8.0,0M436.0,647.5a4.0,4.0 0 1,0 8.0,0a4.0,4.0 0 1,0 -8.0,0M426.9,649.7a4.0,4.0 0 1,0 8.0,0a4.0,4.0 0 1,0 -8.0,0M419.8,650.8a4.0,4.0 0 1,0 8.0,0a4.0,4.0 0 1,0 -8.0,0M412.8,652.9a4.0,4.0 0 1,0 8.0,0a4.0,4.0 0 1,0 -8.0,0M405.8,655.6a4.0,4.0 0 1,0 8.0,0a4.0,4.0 0 1,0 -8.0,0M400.3,657.6a4.0,4.0 0 1,0 8.0,0a4.0,4.0 0 1,0 -8.0,0M394.0,659.9a4.0,4.0 0 1,0 8.0,0a4.0,4.0 0 1,0 -8.0,0M389.7,662.9a4.0,4.0 0 1,0 8.0,0a4.0,4.0 0 1,0 -8.0,0M385.1,666.1a4.0,4.0 0 1,0 8.0,0a4.0,4.0 0 1,0 -8.0,0M380.8,669.5a4.0,4.0 0 1,0 8.0,0a4.0,4.0 0 1,0 -8.0,0M377.0,672.9a4.0,4.0 0 1,0 8.0,0a4.0,4.0 0 1,0 -8.0,0M373.4,676.6a4.0,4.0 0 1,0 8.0,0a4.0,4.0 0 1,0 -8.0,0M370.1,680.5a4.0,4.0 0 1,0 8.0,0a4.0,4.0 0 1,0 -8.0,0M367.1,684.6a4.0,4.0 0 1,0 8.0,0a4.0,4.0 0 1,0 -8.0,0M364.4,689.0a4.0,4.0 0 1,0 8.0,0a4.0,4.0 0 1,0 -8.0,0M361.9,693.6a4.0,4.0 0 1,0 8.0,0a4.0,4.0 0 1,0 -8.0,0M359.6,698.4a4.0,4.0 0 1,0 8.0,0a4.0,4.0 0 1,0 -8.0,0M357.5,703.4a4.0,4.0 0 1,0 8.0,0a4.0,4.0 0 1,0 -8.0,0M355.5,708.5a4.0,4.0 0 1,0 8.0,0a4.0,4.0 0 1,0 -8.0,0M353.8,713.8a4.0,4.0 0 1,0 8.0,0a4.0,4.0 0 1,0 -8.0,0M352.2,719.3a4.0,4.0 0 1,0 8.0,0a4.0,4.0 0 1,0 -8.0,0M350.7,724.9a4.0,4.0 0 1,0 8.0,0a4.0,4.0 0 1,0 -8.0,0M349.3,730.5a4.0,4.0 0 1,0 8.0,0a4.0,4.0 0 1,0 -8.0,0M348.1,736.2a4.0,4.0 0 1,0 8.0,0a4.0,4.0 0 1,0 -8.0,0M346.9,742.0a4.0,4.0 0 1,0 8.0,0a4.0,4.0 0 1,0 -8.0,0M345.9,747.7a4.0,4.0 0 1,0 8.0,0a4.0,4.0 0 1,0 -8.0,0M344.9,753.5a4.0,4.0 0 1,0 8.0,0a4.0,4.0 0 1,0 -8.0,0M344.1,759.2a4.0,4.0 0 1,0 8.0,0a4.0,4.0 0 1,0 -8.0,0M343.3,764.9a4.0,4.0 0 1,0 8.0,0a4.0,4.0 0 1,0 -8.0,0M342.5,770.5a4.0,4.0 0 1,0 8.0,0a4.0,4.0 0 1,0 -8.0,0M341.8,776.0a4.0,4.0 0 1,0 8.0,0a4.0,4.0 0 1,0 -8.0,0M341.2,781.3a4.0,4.0 0 1,0 8.0,0a4.0,4.0 0 1,0 -8.0,0M340.7,786.5a4.0,4.0 0 1,0 8.0,0a4.0,4.0 0 1,0 -8.0,0M340.1,791.6a4.0,4.0 0 1,0 8.0,0a4.0,4.0 0 1,0 -8.0,0M339.7,796.4a4.0,4.0 0 1,0 8.0,0a4.0,4.0 0 1,0 -8.0,0M339.2,801.1a4.0,4.0 0 1,0 8.0,0a4.0,4.0 0 1,0 -8.0,0M338.8,805.5a4.0,4.0 0 1,0 8.0,0a4.0,4.0 0 1,0 -8.0,0M338.5,809.8a4.0,4.0 0 1,0 8.0,0a4.0,4.0 0 1,0 -8.0,0M338.1,813.8a4.0,4.0 0 1,0 8.0,0a4.0,4.0 0 1,0 -8.0,0M337.8,817.5a4.0,4.0 0 1,0 8.0,0a4.0,4.0 0 1,0 -8.0,0M337.6,821.1a4.0,4.0 0 1,0 8.0,0a4.0,4.0 0 1,0 -8.0,0M337.3,824.4a4.0,4.0 0 1,0 8.0,0a4.0,4.0 0 1,0 -8.0,0M337.1,827.5a4.0,4.0 0 1,0 8.0,0a4.0,4.0 0 1,0 -8.0,0M336.8,830.4a4.0,4.0 0 1,0 8.0,0a4.0,4.0 0 1,0 -8.0,0M336.6,833.0a4.0,4.0 0 1,0 8.0,0a4.0,4.0 0 1,0 -8.0,0M336.5,835.4a4.0,4.0 0 1,0 8.0,0a4.0,4.0 0 1,0 -8.0,0M336.3,837.6a4.0,4.0 0 1,0 8.0,0a4.0,4.0 0 1,0 -8.0,0M336.2,839.7a4.0,4.0 0 1,0 8.0,0a4.0,4.0 0 1,0 -8.0,0M336.0,841.5a4.0,4.0 0 1,0 8.0,0a4.0,4.0 0 1,0 -8.0,0M335.9,843.1a4.0,4.0 0 1,0 8.0,0a4.0,4.0 0 1,0 -8.0,0M335.8,844.6a4.0,4.0 0 1,0 8.0,0a4.0,4.0 0 1,0 -8.0,0M335.7,845.9a4.0,4.0 0 1,0 8.0,0a4.0,4.0 0 1,0 -8.0,0M335.6,847.1a4.0,4.0 0 1,0 8.0,0a4.0,4.0 0 1,0 -8.0,0M335.5,848.2a4.0,4.0 0 1,0 8.0,0a4.0,4.0 0 1,0 -8.0,0M335.4,849.1a4.0,4.0 0 1,0 8.0,0a4.0,4.0 0 1,0 -8.0,0M335.3,849.9a4.0,4.0 0 1,0 8.0,0a4.0,4.0 0 1,0 -8.0,0M335.3,850.6a4.0,4.0 0 1,0 8.0,0a4.0,4.0 0 1,0 -8.0,0M335.2,851.2a4.0,4.0 0 1,0 8.0,0a4.0,4.0 0 1,0 -8.0,0M335.1,851.8a4.0,4.0 0 1,0 8.0,0a4.0,4.0 0 1,0 -8.0,0M335.1,852.2a4.0,4.0 0 1,0 8.0,0a4.0,4.0 0 1,0 -8.0,0M335.0,852.6a4.0,4.0 0 1,0 8.0,0a4.0,4.0 0 1,0 -8.0,0M335.0,853.0a4.0,4.0 0 1,0 8.0,0a4.0,4.0 0 1,0 -8.0,0M334.9,853.3a4.0,4.0 0 1,0 8.0,0a4.0,4.0 0 1,0 -8.0,0M334.9,853.5a4.0,4.0 0 1,0 8.0,0a4.0,4.0 0 1,0 -8.0,0M334.9,853.7a4.0,4.0 0 1,0 8.0,0a4.0,4.0 0 1,0 -8.0,0M334.8,853.9a4.0,4.0 0 1,0 8.0,0a4.0,4.0 0 1,0 -8.0,0M334.8,854.0a4.0,4.0 0 1,0 8.0,0a4.0,4.0 0 1,0 -8.0,0M334.8,854.2a4.0,4.0 0 1,0 8.0,0a4.0,4.0 0 1,0 -8.0,0M334.8,854.3a4.0,4.0 0 1,0 8.0,0a4.0,4.0 0 1,0 -8.0,0M334.7,854.3a4.0,4.0 0 1,0 8.0,0a4.0,4.0 0 1,0 -8.0,0M334.7,854.4a4.0,4.0 0 1,0 8.0,0a4.0,4.0 0 1,0 -8.0,0M334.7,854.5a4.0,4.0 0 1,0 8.0,0a4.0,4.0 0 1,0 -8.0,0M334.7,854.5a4.0,4.0 0 1,0 8.0,0a4.0,4.0 0 1,0 -8.0,0M334.7,854.6a4.0,4.0 0 1,0 8.0,0a4.0,4.0 0 1,0 -8.0,0" fill="#000"/>
<path d="M93.0,854.7H584.0M338.5,609.6V1100.4" stroke="#000" stroke-width="3.5" fill="none"/>
<path d="M154.4,1100.4v-8.0M154.4,609.6v8.0M215.8,1100.4v-15.0M215.8,609.6v15.0M277.1,1100.4v-8.0M277.1,609.6v8.0M399.9,1100.4v-8.0M399.9,609.6v8.0M461.2,1100.4v-15.0M461.2,609.6v15.0M522.6,1100.4v-8.0M522.6,609.6v8.0M93.0,1038.8h8.0M93.0,977.4h15.0M93.0,916.1h8.0M93.0,793.4h8.0M93.0,732.0h15.0M93.0,670.7h8.0M584.0,1038.8h-8.0M584.0,977.4h-15.0M584.0,916.1h-8.0M584.0,793.4h-8.0M584.0,732.0h-15.0M584.0,670.7h-8.0" stroke="#000" stroke-width="3.2" fill="none"/>
<rect x="93.0" y="609.6" width="491.0" height="490.8" fill="none" stroke="#000" stroke-width="3.6"/>
<g font-size="30.1"><text transform="translate(79.0,619.4) scale(1,1.045)" text-anchor="end">4</text><text transform="translate(79.0,742.1) scale(1,1.045)" text-anchor="end">2</text><text transform="translate(79.0,864.8) scale(1,1.045)" text-anchor="end">0</text><text transform="translate(79.0,987.5) scale(1,1.045)" text-anchor="end">-2</text><text transform="translate(79.0,1110.2) scale(1,1.045)" text-anchor="end">-4</text><text transform="translate(93.0,1140.6) scale(1,1.045)" text-anchor="middle">-1</text><text transform="translate(215.8,1140.6) scale(1,1.045)" text-anchor="middle">-0.5</text><text transform="translate(338.5,1140.6) scale(1,1.045)" text-anchor="middle">0</text><text transform="translate(461.2,1140.6) scale(1,1.045)" text-anchor="middle">0.5</text><text transform="translate(584.0,1140.6) scale(1,1.045)" text-anchor="middle">1</text><text transform="translate(338.5,1175.4) scale(1,1.05)" text-anchor="middle" font-size="29.9">Field (T)</text><text transform="translate(28.0,855.0) rotate(-90) scale(1,1.02)" text-anchor="middle">IRM (10<tspan font-size="17" dy="-7.5">-3</tspan><tspan dy="7.5"> Am</tspan><tspan font-size="17" dy="-7.5">2</tspan><tspan dy="7.5">/kg)</tspan></text><text x="113.0" y="667.1" font-size="50">d</text><text transform="translate(154.7,667.0) scale(1,1.04)" font-size="29.8">B135</text><text x="352.0" y="960.9" font-size="24.8">IRM<tspan font-size="14.6" dy="7.5">0.1T</tspan><tspan dy="-7.5" dx="0.8">/IRM</tspan><tspan font-size="14.6" dy="7.5">1T</tspan><tspan dy="-7.5" dx="0.8">=0.67</tspan></text><text x="352.0" y="992.7" font-size="24.8">IRM<tspan font-size="14.6" dy="7.5">0.3T</tspan><tspan dy="-7.5" dx="0.8">/IRM</tspan><tspan font-size="14.6" dy="7.5">1T</tspan><tspan dy="-7.5" dx="0.8">=0.89</tspan></text><text x="352.0" y="1024.2" font-size="24.8"><tspan font-style="italic">B</tspan><tspan font-size="14.6" dy="7.5" font-style="italic">cr</tspan><tspan dy="-7.5">=44.3 mT</tspan></text><text x="352.0" y="1055.6" font-size="24.8">S-ratio=0.57</text></g>
<polyline points="745.0,1095.2 766.2,1093.8 784.8,1090.1 802.6,1084.1 818.7,1082.0 832.9,1074.0 847.0,1069.3 858.7,1064.9 870.2,1055.4 880.9,1053.4 889.8,1043.7 898.5,1037.6 906.5,1033.2 913.2,1025.1 920.1,1018.5 926.7,1013.8 931.8,1003.3 936.8,998.9 941.5,991.6 944.9,982.1 949.9,974.0 953.0,967.0 957.0,958.9 958.9,954.5 961.6,949.8 963.7,944.8 966.4,932.3 968.1,919.5 970.7,911.5 972.7,900.4 974.2,888.3 975.5,875.0 976.7,865.6 977.9,855.8 979.1,845.7 980.1,835.2 981.1,824.4 981.9,812.0 982.7,799.3 983.5,786.7 984.2,774.1 984.8,761.6 985.3,749.4 985.9,737.5 986.3,726.0 986.8,714.9 987.2,704.4 987.5,694.4 987.9,685.0 988.2,676.3 988.4,668.3 988.7,660.9 988.9,654.2 989.2,648.1 989.4,642.6 989.5,637.8 989.7,633.5 989.8,629.8 990.0,626.5 990.1,623.7 990.2,621.3 990.3,619.3 990.4,617.6 990.5,616.1 990.6,614.9 990.7,614.0 990.7,613.2 990.8,612.5 990.9,612.0 990.9,611.6 991.0,611.2 991.0,611.0 991.1,610.8 991.1,610.6 991.1,610.5 991.2,610.4 991.2,610.3 991.2,610.3 991.2,610.2 991.3,610.2 991.3,610.2 991.3,610.2 991.3,610.2 991.3,610.2" fill="none" stroke="#000" stroke-width="2.0"/>
<polyline points="1235.8,617.6 1216.4,620.8 1196.5,620.8 1179.2,624.0 1164.1,626.2 1149.0,630.0 1135.5,635.9 1124.2,638.1 1112.8,639.1 1102.0,641.3 1092.9,647.2 1084.8,652.1 1076.7,654.2 1069.1,655.3 1062.7,661.6 1056.7,661.3 1050.8,665.6 1046.5,669.3 1041.6,676.9 1037.9,679.7 1034.0,682.6 1030.4,685.7 1027.1,688.9 1024.1,692.2 1021.4,696.4 1018.9,700.7 1016.6,705.1 1014.5,709.6 1012.5,714.2 1010.8,718.9 1009.2,723.6 1007.7,728.4 1006.3,733.3 1005.1,738.2 1003.9,743.1 1002.9,747.9 1001.9,752.8 1001.1,757.6 1000.3,762.4 999.5,767.2 998.8,771.8 998.2,776.4 997.7,780.9 997.1,785.2 996.7,789.5 996.2,793.6 995.8,797.6 995.5,801.5 995.1,805.2 994.8,808.7 994.6,812.1 994.3,815.4 994.1,818.4 993.8,821.4 993.6,824.1 993.5,826.7 993.3,829.1 993.2,831.4 993.0,833.6 992.9,835.5 992.8,837.4 992.7,839.1 992.6,840.7 992.5,842.1 992.4,843.4 992.3,844.7 992.3,845.8 992.2,846.8 992.1,847.7 992.1,848.5 992.0,849.3 992.0,849.9 991.9,850.5 991.9,851.1 991.9,851.5 991.8,852.0 991.8,852.3 991.8,852.7 991.8,853.0 991.7,853.2 991.7,853.4 991.7,853.6 991.7,853.8 991.7,854.0" fill="none" stroke="#000" stroke-width="2.0"/>
<path d="M741.0,1095.2a4.0,4.0 0 1,0 8.0,0a4.0,4.0 0 1,0 -8.0,0M762.2,1093.8a4.0,4.0 0 1,0 8.0,0a4.0,4.0 0 1,0 -8.0,0M780.8,1090.1a4.0,4.0 0 1,0 8.0,0a4.0,4.0 0 1,0 -8.0,0M798.6,1084.1a4.0,4.0 0 1,0 8.0,0a4.0,4.0 0 1,0 -8.0,0M814.7,1082.0a4.0,4.0 0 1,0 8.0,0a4.0,4.0 0 1,0 -8.0,0M828.9,1074.0a4.0,4.0 0 1,0 8.0,0a4.0,4.0 0 1,0 -8.0,0M843.0,1069.3a4.0,4.0 0 1,0 8.0,0a4.0,4.0 0 1,0 -8.0,0M854.7,1064.9a4.0,4.0 0 1,0 8.0,0a4.0,4.0 0 1,0 -8.0,0M866.2,1055.4a4.0,4.0 0 1,0 8.0,0a4.0,4.0 0 1,0 -8.0,0M876.9,1053.4a4.0,4.0 0 1,0 8.0,0a4.0,4.0 0 1,0 -8.0,0M885.8,1043.7a4.0,4.0 0 1,0 8.0,0a4.0,4.0 0 1,0 -8.0,0M894.5,1037.6a4.0,4.0 0 1,0 8.0,0a4.0,4.0 0 1,0 -8.0,0M902.5,1033.2a4.0,4.0 0 1,0 8.0,0a4.0,4.0 0 1,0 -8.0,0M909.2,1025.1a4.0,4.0 0 1,0 8.0,0a4.0,4.0 0 1,0 -8.0,0M916.1,1018.5a4.0,4.0 0 1,0 8.0,0a4.0,4.0 0 1,0 -8.0,0M922.7,1013.8a4.0,4.0 0 1,0 8.0,0a4.0,4.0 0 1,0 -8.0,0M927.8,1003.3a4.0,4.0 0 1,0 8.0,0a4.0,4.0 0 1,0 -8.0,0M932.8,998.9a4.0,4.0 0 1,0 8.0,0a4.0,4.0 0 1,0 -8.0,0M937.5,991.6a4.0,4.0 0 1,0 8.0,0a4.0,4.0 0 1,0 -8.0,0M940.9,982.1a4.0,4.0 0 1,0 8.0,0a4.0,4.0 0 1,0 -8.0,0M945.9,974.0a4.0,4.0 0 1,0 8.0,0a4.0,4.0 0 1,0 -8.0,0M949.0,967.0a4.0,4.0 0 1,0 8.0,0a4.0,4.0 0 1,0 -8.0,0M953.0,958.9a4.0,4.0 0 1,0 8.0,0a4.0,4.0 0 1,0 -8.0,0M954.9,954.5a4.0,4.0 0 1,0 8.0,0a4.0,4.0 0 1,0 -8.0,0M957.6,949.8a4.0,4.0 0 1,0 8.0,0a4.0,4.0 0 1,0 -8.0,0M959.7,944.8a4.0,4.0 0 1,0 8.0,0a4.0,4.0 0 1,0 -8.0,0M962.4,932.3a4.0,4.0 0 1,0 8.0,0a4.0,4.0 0 1,0 -8.0,0M964.1,919.5a4.0,4.0 0 1,0 8.0,0a4.0,4.0 0 1,0 -8.0,0M966.7,911.5a4.0,4.0 0 1,0 8.0,0a4.0,4.0 0 1,0 -8.0,0M968.7,900.4a4.0,4.0 0 1,0 8.0,0a4.0,4.0 0 1,0 -8.0,0M970.2,888.3a4.0,4.0 0 1,0 8.0,0a4.0,4.0 0 1,0 -8.0,0M971.5,875.0a4.0,4.0 0 1,0 8.0,0a4.0,4.0 0 1,0 -8.0,0M972.7,865.6a4.0,4.0 0 1,0 8.0,0a4.0,4.0 0 1,0 -8.0,0M973.9,855.8a4.0,4.0 0 1,0 8.0,0a4.0,4.0 0 1,0 -8.0,0M975.1,845.7a4.0,4.0 0 1,0 8.0,0a4.0,4.0 0 1,0 -8.0,0M976.1,835.2a4.0,4.0 0 1,0 8.0,0a4.0,4.0 0 1,0 -8.0,0M977.1,824.4a4.0,4.0 0 1,0 8.0,0a4.0,4.0 0 1,0 -8.0,0M977.9,812.0a4.0,4.0 0 1,0 8.0,0a4.0,4.0 0 1,0 -8.0,0M978.7,799.3a4.0,4.0 0 1,0 8.0,0a4.0,4.0 0 1,0 -8.0,0M979.5,786.7a4.0,4.0 0 1,0 8.0,0a4.0,4.0 0 1,0 -8.0,0M980.2,774.1a4.0,4.0 0 1,0 8.0,0a4.0,4.0 0 1,0 -8.0,0M980.8,761.6a4.0,4.0 0 1,0 8.0,0a4.0,4.0 0 1,0 -8.0,0M981.3,749.4a4.0,4.0 0 1,0 8.0,0a4.0,4.0 0 1,0 -8.0,0M981.9,737.5a4.0,4.0 0 1,0 8.0,0a4.0,4.0 0 1,0 -8.0,0M982.3,726.0a4.0,4.0 0 1,0 8.0,0a4.0,4.0 0 1,0 -8.0,0M982.8,714.9a4.0,4.0 0 1,0 8.0,0a4.0,4.0 0 1,0 -8.0,0M983.2,704.4a4.0,4.0 0 1,0 8.0,0a4.0,4.0 0 1,0 -8.0,0M983.5,694.4a4.0,4.0 0 1,0 8.0,0a4.0,4.0 0 1,0 -8.0,0M983.9,685.0a4.0,4.0 0 1,0 8.0,0a4.0,4.0 0 1,0 -8.0,0M984.2,676.3a4.0,4.0 0 1,0 8.0,0a4.0,4.0 0 1,0 -8.0,0M984.4,668.3a4.0,4.0 0 1,0 8.0,0a4.0,4.0 0 1,0 -8.0,0M984.7,660.9a4.0,4.0 0 1,0 8.0,0a4.0,4.0 0 1,0 -8.0,0M984.9,654.2a4.0,4.0 0 1,0 8.0,0a4.0,4.0 0 1,0 -8.0,0M985.2,648.1a4.0,4.0 0 1,0 8.0,0a4.0,4.0 0 1,0 -8.0,0M985.4,642.6a4.0,4.0 0 1,0 8.0,0a4.0,4.0 0 1,0 -8.0,0M985.5,637.8a4.0,4.0 0 1,0 8.0,0a4.0,4.0 0 1,0 -8.0,0M985.7,633.5a4.0,4.0 0 1,0 8.0,0a4.0,4.0 0 1,0 -8.0,0M985.8,629.8a4.0,4.0 0 1,0 8.0,0a4.0,4.0 0 1,0 -8.0,0M986.0,626.5a4.0,4.0 0 1,0 8.0,0a4.0,4.0 0 1,0 -8.0,0M986.1,623.7a4.0,4.0 0 1,0 8.0,0a4.0,4.0 0 1,0 -8.0,0M986.2,621.3a4.0,4.0 0 1,0 8.0,0a4.0,4.0 0 1,0 -8.0,0M986.3,619.3a4.0,4.0 0 1,0 8.0,0a4.0,4.0 0 1,0 -8.0,0M986.4,617.6a4.0,4.0 0 1,0 8.0,0a4.0,4.0 0 1,0 -8.0,0M986.5,616.1a4.0,4.0 0 1,0 8.0,0a4.0,4.0 0 1,0 -8.0,0M986.6,614.9a4.0,4.0 0 1,0 8.0,0a4.0,4.0 0 1,0 -8.0,0M986.7,614.0a4.0,4.0 0 1,0 8.0,0a4.0,4.0 0 1,0 -8.0,0M986.7,613.2a4.0,4.0 0 1,0 8.0,0a4.0,4.0 0 1,0 -8.0,0M986.8,612.5a4.0,4.0 0 1,0 8.0,0a4.0,4.0 0 1,0 -8.0,0M986.9,612.0a4.0,4.0 0 1,0 8.0,0a4.0,4.0 0 1,0 -8.0,0M986.9,611.6a4.0,4.0 0 1,0 8.0,0a4.0,4.0 0 1,0 -8.0,0M987.0,611.2a4.0,4.0 0 1,0 8.0,0a4.0,4.0 0 1,0 -8.0,0M987.0,611.0a4.0,4.0 0 1,0 8.0,0a4.0,4.0 0 1,0 -8.0,0M987.1,610.8a4.0,4.0 0 1,0 8.0,0a4.0,4.0 0 1,0 -8.0,0M987.1,610.6a4.0,4.0 0 1,0 8.0,0a4.0,4.0 0 1,0 -8.0,0M987.1,610.5a4.0,4.0 0 1,0 8.0,0a4.0,4.0 0 1,0 -8.0,0M987.2,610.4a4.0,4.0 0 1,0 8.0,0a4.0,4.0 0 1,0 -8.0,0M987.2,610.3a4.0,4.0 0 1,0 8.0,0a4.0,4.0 0 1,0 -8.0,0M987.2,610.3a4.0,4.0 0 1,0 8.0,0a4.0,4.0 0 1,0 -8.0,0M987.2,610.2a4.0,4.0 0 1,0 8.0,0a4.0,4.0 0 1,0 -8.0,0M987.3,610.2a4.0,4.0 0 1,0 8.0,0a4.0,4.0 0 1,0 -8.0,0M987.3,610.2a4.0,4.0 0 1,0 8.0,0a4.0,4.0 0 1,0 -8.0,0M987.3,610.2a4.0,4.0 0 1,0 8.0,0a4.0,4.0 0 1,0 -8.0,0M987.3,610.2a4.0,4.0 0 1,0 8.0,0a4.0,4.0 0 1,0 -8.0,0M987.3,610.2a4.0,4.0 0 1,0 8.0,0a4.0,4.0 0 1,0 -8.0,0M1231.8,617.6a4.0,4.0 0 1,0 8.0,0a4.0,4.0 0 1,0 -8.0,0M1212.4,620.8a4.0,4.0 0 1,0 8.0,0a4.0,4.0 0 1,0 -8.0,0M1192.5,620.8a4.0,4.0 0 1,0 8.0,0a4.0,4.0 0 1,0 -8.0,0M1175.2,624.0a4.0,4.0 0 1,0 8.0,0a4.0,4.0 0 1,0 -8.0,0M1160.1,626.2a4.0,4.0 0 1,0 8.0,0a4.0,4.0 0 1,0 -8.0,0M1145.0,630.0a4.0,4.0 0 1,0 8.0,0a4.0,4.0 0 1,0 -8.0,0M1131.5,635.9a4.0,4.0 0 1,0 8.0,0a4.0,4.0 0 1,0 -8.0,0M1120.2,638.1a4.0,4.0 0 1,0 8.0,0a4.0,4.0 0 1,0 -8.0,0M1108.8,639.1a4.0,4.0 0 1,0 8.0,0a4.0,4.0 0 1,0 -8.0,0M1098.0,641.3a4.0,4.0 0 1,0 8.0,0a4.0,4.0 0 1,0 -8.0,0M1088.9,647.2a4.0,4.0 0 1,0 8.0,0a4.0,4.0 0 1,0 -8.0,0M1080.8,652.1a4.0,4.0 0 1,0 8.0,0a4.0,4.0 0 1,0 -8.0,0M1072.7,654.2a4.0,4.0 0 1,0 8.0,0a4.0,4.0 0 1,0 -8.0,0M1065.1,655.3a4.0,4.0 0 1,0 8.0,0a4.0,4.0 0 1,0 -8.0,0M1058.7,661.6a4.0,4.0 0 1,0 8.0,0a4.0,4.0 0 1,0 -8.0,0M1052.7,661.3a4.0,4.0 0 1,0 8.0,0a4.0,4.0 0 1,0 -8.0,0M1046.8,665.6a4.0,4.0 0 1,0 8.0,0a4.0,4.0 0 1,0 -8.0,0M1042.5,669.3a4.0,4.0 0 1,0 8.0,0a4.0,4.0 0 1,0 -8.0,0M1037.6,676.9a4.0,4.0 0 1,0 8.0,0a4.0,4.0 0 1,0 -8.0,0M1033.9,679.7a4.0,4.0 0 1,0 8.0,0a4.0,4.0 0 1,0 -8.0,0M1030.0,682.6a4.0,4.0 0 1,0 8.0,0a4.0,4.0 0 1,0 -8.0,0M1026.4,685.7a4.0,4.0 0 1,0 8.0,0a4.0,4.0 0 1,0 -8.0,0M1023.1,688.9a4.0,4.0 0 1,0 8.0,0a4.0,4.0 0 1,0 -8.0,0M1020.1,692.2a4.0,4.0 0 1,0 8.0,0a4.0,4.0 0 1,0 -8.0,0M1017.4,696.4a4.0,4.0 0 1,0 8.0,0a4.0,4.0 0 1,0 -8.0,0M1014.9,700.7a4.0,4.0 0 1,0 8.0,0a4.0,4.0 0 1,0 -8.0,0M1012.6,705.1a4.0,4.0 0 1,0 8.0,0a4.0,4.0 0 1,0 -8.0,0M1010.5,709.6a4.0,4.0 0 1,0 8.0,0a4.0,4.0 0 1,0 -8.0,0M1008.5,714.2a4.0,4.0 0 1,0 8.0,0a4.0,4.0 0 1,0 -8.0,0M1006.8,718.9a4.0,4.0 0 1,0 8.0,0a4.0,4.0 0 1,0 -8.0,0M1005.2,723.6a4.0,4.0 0 1,0 8.0,0a4.0,4.0 0 1,0 -8.0,0M1003.7,728.4a4.0,4.0 0 1,0 8.0,0a4.0,4.0 0 1,0 -8.0,0M1002.3,733.3a4.0,4.0 0 1,0 8.0,0a4.0,4.0 0 1,0 -8.0,0M1001.1,738.2a4.0,4.0 0 1,0 8.0,0a4.0,4.0 0 1,0 -8.0,0M999.9,743.1a4.0,4.0 0 1,0 8.0,0a4.0,4.0 0 1,0 -8.0,0M998.9,747.9a4.0,4.0 0 1,0 8.0,0a4.0,4.0 0 1,0 -8.0,0M997.9,752.8a4.0,4.0 0 1,0 8.0,0a4.0,4.0 0 1,0 -8.0,0M997.1,757.6a4.0,4.0 0 1,0 8.0,0a4.0,4.0 0 1,0 -8.0,0M996.3,762.4a4.0,4.0 0 1,0 8.0,0a4.0,4.0 0 1,0 -8.0,0M995.5,767.2a4.0,4.0 0 1,0 8.0,0a4.0,4.0 0 1,0 -8.0,0M994.8,771.8a4.0,4.0 0 1,0 8.0,0a4.0,4.0 0 1,0 -8.0,0M994.2,776.4a4.0,4.0 0 1,0 8.0,0a4.0,4.0 0 1,0 -8.0,0M993.7,780.9a4.0,4.0 0 1,0 8.0,0a4.0,4.0 0 1,0 -8.0,0M993.1,785.2a4.0,4.0 0 1,0 8.0,0a4.0,4.0 0 1,0 -8.0,0M992.7,789.5a4.0,4.0 0 1,0 8.0,0a4.0,4.0 0 1,0 -8.0,0M992.2,793.6a4.0,4.0 0 1,0 8.0,0a4.0,4.0 0 1,0 -8.0,0M991.8,797.6a4.0,4.0 0 1,0 8.0,0a4.0,4.0 0 1,0 -8.0,0M991.5,801.5a4.0,4.0 0 1,0 8.0,0a4.0,4.0 0 1,0 -8.0,0M991.1,805.2a4.0,4.0 0 1,0 8.0,0a4.0,4.0 0 1,0 -8.0,0M990.8,808.7a4.0,4.0 0 1,0 8.0,0a4.0,4.0 0 1,0 -8.0,0M990.6,812.1a4.0,4.0 0 1,0 8.0,0a4.0,4.0 0 1,0 -8.0,0M990.3,815.4a4.0,4.0 0 1,0 8.0,0a4.0,4.0 0 1,0 -8.0,0M990.1,818.4a4.0,4.0 0 1,0 8.0,0a4.0,4.0 0 1,0 -8.0,0M989.8,821.4a4.0,4.0 0 1,0 8.0,0a4.0,4.0 0 1,0 -8.0,0M989.6,824.1a4.0,4.0 0 1,0 8.0,0a4.0,4.0 0 1,0 -8.0,0M989.5,826.7a4.0,4.0 0 1,0 8.0,0a4.0,4.0 0 1,0 -8.0,0M989.3,829.1a4.0,4.0 0 1,0 8.0,0a4.0,4.0 0 1,0 -8.0,0M989.2,831.4a4.0,4.0 0 1,0 8.0,0a4.0,4.0 0 1,0 -8.0,0M989.0,833.6a4.0,4.0 0 1,0 8.0,0a4.0,4.0 0 1,0 -8.0,0M988.9,835.5a4.0,4.0 0 1,0 8.0,0a4.0,4.0 0 1,0 -8.0,0M988.8,837.4a4.0,4.0 0 1,0 8.0,0a4.0,4.0 0 1,0 -8.0,0M988.7,839.1a4.0,4.0 0 1,0 8.0,0a4.0,4.0 0 1,0 -8.0,0M988.6,840.7a4.0,4.0 0 1,0 8.0,0a4.0,4.0 0 1,0 -8.0,0M988.5,842.1a4.0,4.0 0 1,0 8.0,0a4.0,4.0 0 1,0 -8.0,0M988.4,843.4a4.0,4.0 0 1,0 8.0,0a4.0,4.0 0 1,0 -8.0,0M988.3,844.7a4.0,4.0 0 1,0 8.0,0a4.0,4.0 0 1,0 -8.0,0M988.3,845.8a4.0,4.0 0 1,0 8.0,0a4.0,4.0 0 1,0 -8.0,0M988.2,846.8a4.0,4.0 0 1,0 8.0,0a4.0,4.0 0 1,0 -8.0,0M988.1,847.7a4.0,4.0 0 1,0 8.0,0a4.0,4.0 0 1,0 -8.0,0M988.1,848.5a4.0,4.0 0 1,0 8.0,0a4.0,4.0 0 1,0 -8.0,0M988.0,849.3a4.0,4.0 0 1,0 8.0,0a4.0,4.0 0 1,0 -8.0,0M988.0,849.9a4.0,4.0 0 1,0 8.0,0a4.0,4.0 0 1,0 -8.0,0M987.9,850.5a4.0,4.0 0 1,0 8.0,0a4.0,4.0 0 1,0 -8.0,0M987.9,851.1a4.0,4.0 0 1,0 8.0,0a4.0,4.0 0 1,0 -8.0,0M987.9,851.5a4.0,4.0 0 1,0 8.0,0a4.0,4.0 0 1,0 -8.0,0M987.8,852.0a4.0,4.0 0 1,0 8.0,0a4.0,4.0 0 1,0 -8.0,0M987.8,852.3a4.0,4.0 0 1,0 8.0,0a4.0,4.0 0 1,0 -8.0,0M987.8,852.7a4.0,4.0 0 1,0 8.0,0a4.0,4.0 0 1,0 -8.0,0M987.8,853.0a4.0,4.0 0 1,0 8.0,0a4.0,4.0 0 1,0 -8.0,0M987.7,853.2a4.0,4.0 0 1,0 8.0,0a4.0,4.0 0 1,0 -8.0,0M987.7,853.4a4.0,4.0 0 1,0 8.0,0a4.0,4.0 0 1,0 -8.0,0M987.7,853.6a4.0,4.0 0 1,0 8.0,0a4.0,4.0 0 1,0 -8.0,0M987.7,853.8a4.0,4.0 0 1,0 8.0,0a4.0,4.0 0 1,0 -8.0,0M987.7,854.0a4.0,4.0 0 1,0 8.0,0a4.0,4.0 0 1,0 -8.0,0" fill="#000"/>
<path d="M746.0,854.8H1237.0M991.5,609.6V1100.4" stroke="#000" stroke-width="3.5" fill="none"/>
<path d="M807.4,1100.4v-8.0M807.4,609.6v8.0M868.8,1100.4v-15.0M868.8,609.6v15.0M930.1,1100.4v-8.0M930.1,609.6v8.0M1052.9,1100.4v-8.0M1052.9,609.6v8.0M1114.2,1100.4v-15.0M1114.2,609.6v15.0M1175.6,1100.4v-8.0M1175.6,609.6v8.0M746.0,1018.4h15.0M746.0,936.6h8.0M746.0,773.0h8.0M746.0,691.2h15.0M1237.0,1018.4h-15.0M1237.0,936.6h-8.0M1237.0,773.0h-8.0M1237.0,691.2h-15.0" stroke="#000" stroke-width="3.2" fill="none"/>
<rect x="746.0" y="609.6" width="491.0" height="490.8" fill="none" stroke="#000" stroke-width="3.6"/>
<g font-size="30.1"><text transform="translate(732.0,701.3) scale(1,1.045)" text-anchor="end">1</text><text transform="translate(732.0,864.9) scale(1,1.045)" text-anchor="end">0</text><text transform="translate(732.0,1028.5) scale(1,1.045)" text-anchor="end">-1</text><text transform="translate(746.0,1140.6) scale(1,1.045)" text-anchor="middle">-1</text><text transform="translate(868.8,1140.6) scale(1,1.045)" text-anchor="middle">-0.5</text><text transform="translate(991.5,1140.6) scale(1,1.045)" text-anchor="middle">0</text><text transform="translate(1114.2,1140.6) scale(1,1.045)" text-anchor="middle">0.5</text><text transform="translate(1237.0,1140.6) scale(1,1.045)" text-anchor="middle">1</text><text transform="translate(991.5,1175.4) scale(1,1.05)" text-anchor="middle" font-size="29.9">Field (T)</text><text transform="translate(681.0,855.0) rotate(-90) scale(1,1.02)" text-anchor="middle">IRM (10<tspan font-size="17" dy="-7.5">-3</tspan><tspan dy="7.5"> Am</tspan><tspan font-size="17" dy="-7.5">2</tspan><tspan dy="7.5">/kg)</tspan></text><text x="766.0" y="667.1" font-size="50">e</text><text transform="translate(807.7,667.0) scale(1,1.04)" font-size="29.8">B180</text><text x="1005.0" y="960.9" font-size="24.8">IRM<tspan font-size="14.6" dy="7.5">0.1T</tspan><tspan dy="-7.5" dx="0.8">/IRM</tspan><tspan font-size="14.6" dy="7.5">1T</tspan><tspan dy="-7.5" dx="0.8">=0.62</tspan></text><text x="1005.0" y="992.7" font-size="24.8">IRM<tspan font-size="14.6" dy="7.5">0.3T</tspan><tspan dy="-7.5" dx="0.8">/IRM</tspan><tspan font-size="14.6" dy="7.5">1T</tspan><tspan dy="-7.5" dx="0.8">=0.82</tspan></text><text x="1005.0" y="1024.2" font-size="24.8"><tspan font-style="italic">B</tspan><tspan font-size="14.6" dy="7.5" font-style="italic">cr</tspan><tspan dy="-7.5">=50.6 mT</tspan></text><text x="1005.0" y="1055.6" font-size="24.8">S-ratio=0.51</text></g>
<polyline points="1399.3,1080.8 1420.5,1079.9 1439.0,1076.1 1456.6,1072.8 1471.4,1069.7 1486.6,1066.0 1500.1,1064.7 1512.5,1057.6 1522.9,1054.3 1533.4,1049.7 1543.0,1046.2 1552.5,1041.4 1559.3,1038.2 1565.8,1030.3 1573.2,1027.1 1578.8,1018.4 1584.7,1012.3 1589.9,1007.7 1594.5,1003.1 1599.1,995.7 1602.4,990.7 1605.6,983.6 1609.3,976.2 1613.0,967.0 1615.4,958.1 1617.6,949.4 1620.0,941.1 1622.2,930.9 1624.1,920.7 1625.4,911.5 1627.8,900.4 1629.1,891.1 1630.1,879.5 1631.3,867.5 1632.5,855.2 1633.5,842.5 1634.5,829.7 1635.3,816.6 1636.1,803.5 1636.9,790.4 1637.6,777.5 1638.2,764.8 1638.7,752.5 1639.3,740.5 1639.7,729.1 1640.2,718.3 1640.6,708.0 1640.9,698.5 1641.3,689.6 1641.6,681.5 1641.8,674.0 1642.1,667.3 1642.3,661.3 1642.6,655.9 1642.7,651.2 1642.9,647.0 1643.1,643.5 1643.2,640.4 1643.4,637.8 1643.5,635.5 1643.6,633.7 1643.7,632.1 1643.8,630.9 1643.9,629.8 1644.0,629.0 1644.1,628.3 1644.1,627.8 1644.2,627.3 1644.3,627.0 1644.3,626.7 1644.4,626.5 1644.4,626.4 1644.5,626.3 1644.5,626.2 1644.5,626.1 1644.6,626.1 1644.6,626.1 1644.6,626.0 1644.6,626.0 1644.7,626.0 1644.7,626.0 1644.7,626.0 1644.7,626.0 1644.7,626.0" fill="none" stroke="#000" stroke-width="2.0"/>
<polyline points="1890.2,631.0 1869.1,633.7 1850.8,633.2 1833.0,637.0 1816.8,639.1 1802.8,641.5 1788.7,644.0 1777.4,645.1 1765.5,648.3 1756.0,651.0 1746.6,652.1 1737.5,654.2 1730.5,655.3 1722.4,660.7 1716.4,661.3 1710.5,667.2 1705.1,669.9 1700.8,672.0 1695.4,676.9 1691.6,681.2 1687.4,684.7 1683.8,688.4 1680.5,692.2 1677.5,696.1 1674.8,700.2 1672.3,704.7 1670.0,709.4 1667.9,714.1 1666.0,718.9 1664.2,723.8 1662.6,728.7 1661.1,733.7 1659.7,738.7 1658.5,743.7 1657.3,748.7 1656.3,753.6 1655.3,758.6 1654.5,763.4 1653.7,768.3 1652.9,773.0 1652.2,777.6 1651.6,782.2 1651.1,786.6 1650.5,790.9 1650.1,795.1 1649.6,799.1 1649.2,802.9 1648.9,806.7 1648.5,810.2 1648.2,813.6 1648.0,816.8 1647.7,819.9 1647.5,822.7 1647.2,825.5 1647.1,828.0 1646.9,830.4 1646.7,832.6 1646.6,834.7 1646.4,836.7 1646.3,838.4 1646.2,840.1 1646.1,841.6 1646.0,843.0 1645.9,844.3 1645.8,845.4 1645.7,846.5 1645.7,847.4 1645.6,848.3 1645.5,849.0 1645.5,849.7 1645.4,850.4 1645.4,850.9 1645.3,851.4 1645.3,851.8 1645.3,852.2 1645.2,852.6 1645.2,852.9 1645.2,853.1 1645.2,853.3 1645.1,853.5 1645.1,853.7 1645.1,853.9 1645.1,854.0 1645.1,854.1" fill="none" stroke="#000" stroke-width="2.0"/>
<path d="M1395.3,1080.8a4.0,4.0 0 1,0 8.0,0a4.0,4.0 0 1,0 -8.0,0M1416.5,1079.9a4.0,4.0 0 1,0 8.0,0a4.0,4.0 0 1,0 -8.0,0M1435.0,1076.1a4.0,4.0 0 1,0 8.0,0a4.0,4.0 0 1,0 -8.0,0M1452.6,1072.8a4.0,4.0 0 1,0 8.0,0a4.0,4.0 0 1,0 -8.0,0M1467.4,1069.7a4.0,4.0 0 1,0 8.0,0a4.0,4.0 0 1,0 -8.0,0M1482.6,1066.0a4.0,4.0 0 1,0 8.0,0a4.0,4.0 0 1,0 -8.0,0M1496.1,1064.7a4.0,4.0 0 1,0 8.0,0a4.0,4.0 0 1,0 -8.0,0M1508.5,1057.6a4.0,4.0 0 1,0 8.0,0a4.0,4.0 0 1,0 -8.0,0M1518.9,1054.3a4.0,4.0 0 1,0 8.0,0a4.0,4.0 0 1,0 -8.0,0M1529.4,1049.7a4.0,4.0 0 1,0 8.0,0a4.0,4.0 0 1,0 -8.0,0M1539.0,1046.2a4.0,4.0 0 1,0 8.0,0a4.0,4.0 0 1,0 -8.0,0M1548.5,1041.4a4.0,4.0 0 1,0 8.0,0a4.0,4.0 0 1,0 -8.0,0M1555.3,1038.2a4.0,4.0 0 1,0 8.0,0a4.0,4.0 0 1,0 -8.0,0M1561.8,1030.3a4.0,4.0 0 1,0 8.0,0a4.0,4.0 0 1,0 -8.0,0M1569.2,1027.1a4.0,4.0 0 1,0 8.0,0a4.0,4.0 0 1,0 -8.0,0M1574.8,1018.4a4.0,4.0 0 1,0 8.0,0a4.0,4.0 0 1,0 -8.0,0M1580.7,1012.3a4.0,4.0 0 1,0 8.0,0a4.0,4.0 0 1,0 -8.0,0M1585.9,1007.7a4.0,4.0 0 1,0 8.0,0a4.0,4.0 0 1,0 -8.0,0M1590.5,1003.1a4.0,4.0 0 1,0 8.0,0a4.0,4.0 0 1,0 -8.0,0M1595.1,995.7a4.0,4.0 0 1,0 8.0,0a4.0,4.0 0 1,0 -8.0,0M1598.4,990.7a4.0,4.0 0 1,0 8.0,0a4.0,4.0 0 1,0 -8.0,0M1601.6,983.6a4.0,4.0 0 1,0 8.0,0a4.0,4.0 0 1,0 -8.0,0M1605.3,976.2a4.0,4.0 0 1,0 8.0,0a4.0,4.0 0 1,0 -8.0,0M1609.0,967.0a4.0,4.0 0 1,0 8.0,0a4.0,4.0 0 1,0 -8.0,0M1611.4,958.1a4.0,4.0 0 1,0 8.0,0a4.0,4.0 0 1,0 -8.0,0M1613.6,949.4a4.0,4.0 0 1,0 8.0,0a4.0,4.0 0 1,0 -8.0,0M1616.0,941.1a4.0,4.0 0 1,0 8.0,0a4.0,4.0 0 1,0 -8.0,0M1618.2,930.9a4.0,4.0 0 1,0 8.0,0a4.0,4.0 0 1,0 -8.0,0M1620.1,920.7a4.0,4.0 0 1,0 8.0,0a4.0,4.0 0 1,0 -8.0,0M1621.4,911.5a4.0,4.0 0 1,0 8.0,0a4.0,4.0 0 1,0 -8.0,0M1623.8,900.4a4.0,4.0 0 1,0 8.0,0a4.0,4.0 0 1,0 -8.0,0M1625.1,891.1a4.0,4.0 0 1,0 8.0,0a4.0,4.0 0 1,0 -8.0,0M1626.1,879.5a4.0,4.0 0 1,0 8.0,0a4.0,4.0 0 1,0 -8.0,0M1627.3,867.5a4.0,4.0 0 1,0 8.0,0a4.0,4.0 0 1,0 -8.0,0M1628.5,855.2a4.0,4.0 0 1,0 8.0,0a4.0,4.0 0 1,0 -8.0,0M1629.5,842.5a4.0,4.0 0 1,0 8.0,0a4.0,4.0 0 1,0 -8.0,0M1630.5,829.7a4.0,4.0 0 1,0 8.0,0a4.0,4.0 0 1,0 -8.0,0M1631.3,816.6a4.0,4.0 0 1,0 8.0,0a4.0,4.0 0 1,0 -8.0,0M1632.1,803.5a4.0,4.0 0 1,0 8.0,0a4.0,4.0 0 1,0 -8.0,0M1632.9,790.4a4.0,4.0 0 1,0 8.0,0a4.0,4.0 0 1,0 -8.0,0M1633.6,777.5a4.0,4.0 0 1,0 8.0,0a4.0,4.0 0 1,0 -8.0,0M1634.2,764.8a4.0,4.0 0 1,0 8.0,0a4.0,4.0 0 1,0 -8.0,0M1634.7,752.5a4.0,4.0 0 1,0 8.0,0a4.0,4.0 0 1,0 -8.0,0M1635.3,740.5a4.0,4.0 0 1,0 8.0,0a4.0,4.0 0 1,0 -8.0,0M1635.7,729.1a4.0,4.0 0 1,0 8.0,0a4.0,4.0 0 1,0 -8.0,0M1636.2,718.3a4.0,4.0 0 1,0 8.0,0a4.0,4.0 0 1,0 -8.0,0M1636.6,708.0a4.0,4.0 0 1,0 8.0,0a4.0,4.0 0 1,0 -8.0,0M1636.9,698.5a4.0,4.0 0 1,0 8.0,0a4.0,4.0 0 1,0 -8.0,0M1637.3,689.6a4.0,4.0 0 1,0 8.0,0a4.0,4.0 0 1,0 -8.0,0M1637.6,681.5a4.0,4.0 0 1,0 8.0,0a4.0,4.0 0 1,0 -8.0,0M1637.8,674.0a4.0,4.0 0 1,0 8.0,0a4.0,4.0 0 1,0 -8.0,0M1638.1,667.3a4.0,4.0 0 1,0 8.0,0a4.0,4.0 0 1,0 -8.0,0M1638.3,661.3a4.0,4.0 0 1,0 8.0,0a4.0,4.0 0 1,0 -8.0,0M1638.6,655.9a4.0,4.0 0 1,0 8.0,0a4.0,4.0 0 1,0 -8.0,0M1638.7,651.2a4.0,4.0 0 1,0 8.0,0a4.0,4.0 0 1,0 -8.0,0M1638.9,647.0a4.0,4.0 0 1,0 8.0,0a4.0,4.0 0 1,0 -8.0,0M1639.1,643.5a4.0,4.0 0 1,0 8.0,0a4.0,4.0 0 1,0 -8.0,0M1639.2,640.4a4.0,4.0 0 1,0 8.0,0a4.0,4.0 0 1,0 -8.0,0M1639.4,637.8a4.0,4.0 0 1,0 8.0,0a4.0,4.0 0 1,0 -8.0,0M1639.5,635.5a4.0,4.0 0 1,0 8.0,0a4.0,4.0 0 1,0 -8.0,0M1639.6,633.7a4.0,4.0 0 1,0 8.0,0a4.0,4.0 0 1,0 -8.0,0M1639.7,632.1a4.0,4.0 0 1,0 8.0,0a4.0,4.0 0 1,0 -8.0,0M1639.8,630.9a4.0,4.0 0 1,0 8.0,0a4.0,4.0 0 1,0 -8.0,0M1639.9,629.8a4.0,4.0 0 1,0 8.0,0a4.0,4.0 0 1,0 -8.0,0M1640.0,629.0a4.0,4.0 0 1,0 8.0,0a4.0,4.0 0 1,0 -8.0,0M1640.1,628.3a4.0,4.0 0 1,0 8.0,0a4.0,4.0 0 1,0 -8.0,0M1640.1,627.8a4.0,4.0 0 1,0 8.0,0a4.0,4.0 0 1,0 -8.0,0M1640.2,627.3a4.0,4.0 0 1,0 8.0,0a4.0,4.0 0 1,0 -8.0,0M1640.3,627.0a4.0,4.0 0 1,0 8.0,0a4.0,4.0 0 1,0 -8.0,0M1640.3,626.7a4.0,4.0 0 1,0 8.0,0a4.0,4.0 0 1,0 -8.0,0M1640.4,626.5a4.0,4.0 0 1,0 8.0,0a4.0,4.0 0 1,0 -8.0,0M1640.4,626.4a4.0,4.0 0 1,0 8.0,0a4.0,4.0 0 1,0 -8.0,0M1640.5,626.3a4.0,4.0 0 1,0 8.0,0a4.0,4.0 0 1,0 -8.0,0M1640.5,626.2a4.0,4.0 0 1,0 8.0,0a4.0,4.0 0 1,0 -8.0,0M1640.5,626.1a4.0,4.0 0 1,0 8.0,0a4.0,4.0 0 1,0 -8.0,0M1640.6,626.1a4.0,4.0 0 1,0 8.0,0a4.0,4.0 0 1,0 -8.0,0M1640.6,626.1a4.0,4.0 0 1,0 8.0,0a4.0,4.0 0 1,0 -8.0,0M1640.6,626.0a4.0,4.0 0 1,0 8.0,0a4.0,4.0 0 1,0 -8.0,0M1640.6,626.0a4.0,4.0 0 1,0 8.0,0a4.0,4.0 0 1,0 -8.0,0M1640.7,626.0a4.0,4.0 0 1,0 8.0,0a4.0,4.0 0 1,0 -8.0,0M1640.7,626.0a4.0,4.0 0 1,0 8.0,0a4.0,4.0 0 1,0 -8.0,0M1640.7,626.0a4.0,4.0 0 1,0 8.0,0a4.0,4.0 0 1,0 -8.0,0M1640.7,626.0a4.0,4.0 0 1,0 8.0,0a4.0,4.0 0 1,0 -8.0,0M1640.7,626.0a4.0,4.0 0 1,0 8.0,0a4.0,4.0 0 1,0 -8.0,0M1886.2,631.0a4.0,4.0 0 1,0 8.0,0a4.0,4.0 0 1,0 -8.0,0M1865.1,633.7a4.0,4.0 0 1,0 8.0,0a4.0,4.0 0 1,0 -8.0,0M1846.8,633.2a4.0,4.0 0 1,0 8.0,0a4.0,4.0 0 1,0 -8.0,0M1829.0,637.0a4.0,4.0 0 1,0 8.0,0a4.0,4.0 0 1,0 -8.0,0M1812.8,639.1a4.0,4.0 0 1,0 8.0,0a4.0,4.0 0 1,0 -8.0,0M1798.8,641.5a4.0,4.0 0 1,0 8.0,0a4.0,4.0 0 1,0 -8.0,0M1784.7,644.0a4.0,4.0 0 1,0 8.0,0a4.0,4.0 0 1,0 -8.0,0M1773.4,645.1a4.0,4.0 0 1,0 8.0,0a4.0,4.0 0 1,0 -8.0,0M1761.5,648.3a4.0,4.0 0 1,0 8.0,0a4.0,4.0 0 1,0 -8.0,0M1752.0,651.0a4.0,4.0 0 1,0 8.0,0a4.0,4.0 0 1,0 -8.0,0M1742.6,652.1a4.0,4.0 0 1,0 8.0,0a4.0,4.0 0 1,0 -8.0,0M1733.5,654.2a4.0,4.0 0 1,0 8.0,0a4.0,4.0 0 1,0 -8.0,0M1726.5,655.3a4.0,4.0 0 1,0 8.0,0a4.0,4.0 0 1,0 -8.0,0M1718.4,660.7a4.0,4.0 0 1,0 8.0,0a4.0,4.0 0 1,0 -8.0,0M1712.4,661.3a4.0,4.0 0 1,0 8.0,0a4.0,4.0 0 1,0 -8.0,0M1706.5,667.2a4.0,4.0 0 1,0 8.0,0a4.0,4.0 0 1,0 -8.0,0M1701.1,669.9a4.0,4.0 0 1,0 8.0,0a4.0,4.0 0 1,0 -8.0,0M1696.8,672.0a4.0,4.0 0 1,0 8.0,0a4.0,4.0 0 1,0 -8.0,0M1691.4,676.9a4.0,4.0 0 1,0 8.0,0a4.0,4.0 0 1,0 -8.0,0M1687.6,681.2a4.0,4.0 0 1,0 8.0,0a4.0,4.0 0 1,0 -8.0,0M1683.4,684.7a4.0,4.0 0 1,0 8.0,0a4.0,4.0 0 1,0 -8.0,0M1679.8,688.4a4.0,4.0 0 1,0 8.0,0a4.0,4.0 0 1,0 -8.0,0M1676.5,692.2a4.0,4.0 0 1,0 8.0,0a4.0,4.0 0 1,0 -8.0,0M1673.5,696.1a4.0,4.0 0 1,0 8.0,0a4.0,4.0 0 1,0 -8.0,0M1670.8,700.2a4.0,4.0 0 1,0 8.0,0a4.0,4.0 0 1,0 -8.0,0M1668.3,704.7a4.0,4.0 0 1,0 8.0,0a4.0,4.0 0 1,0 -8.0,0M1666.0,709.4a4.0,4.0 0 1,0 8.0,0a4.0,4.0 0 1,0 -8.0,0M1663.9,714.1a4.0,4.0 0 1,0 8.0,0a4.0,4.0 0 1,0 -8.0,0M1662.0,718.9a4.0,4.0 0 1,0 8.0,0a4.0,4.0 0 1,0 -8.0,0M1660.2,723.8a4.0,4.0 0 1,0 8.0,0a4.0,4.0 0 1,0 -8.0,0M1658.6,728.7a4.0,4.0 0 1,0 8.0,0a4.0,4.0 0 1,0 -8.0,0M1657.1,733.7a4.0,4.0 0 1,0 8.0,0a4.0,4.0 0 1,0 -8.0,0M1655.7,738.7a4.0,4.0 0 1,0 8.0,0a4.0,4.0 0 1,0 -8.0,0M1654.5,743.7a4.0,4.0 0 1,0 8.0,0a4.0,4.0 0 1,0 -8.0,0M1653.3,748.7a4.0,4.0 0 1,0 8.0,0a4.0,4.0 0 1,0 -8.0,0M1652.3,753.6a4.0,4.0 0 1,0 8.0,0a4.0,4.0 0 1,0 -8.0,0M1651.3,758.6a4.0,4.0 0 1,0 8.0,0a4.0,4.0 0 1,0 -8.0,0M1650.5,763.4a4.0,4.0 0 1,0 8.0,0a4.0,4.0 0 1,0 -8.0,0M1649.7,768.3a4.0,4.0 0 1,0 8.0,0a4.0,4.0 0 1,0 -8.0,0M1648.9,773.0a4.0,4.0 0 1,0 8.0,0a4.0,4.0 0 1,0 -8.0,0M1648.2,777.6a4.0,4.0 0 1,0 8.0,0a4.0,4.0 0 1,0 -8.0,0M1647.6,782.2a4.0,4.0 0 1,0 8.0,0a4.0,4.0 0 1,0 -8.0,0M1647.1,786.6a4.0,4.0 0 1,0 8.0,0a4.0,4.0 0 1,0 -8.0,0M1646.5,790.9a4.0,4.0 0 1,0 8.0,0a4.0,4.0 0 1,0 -8.0,0M1646.1,795.1a4.0,4.0 0 1,0 8.0,0a4.0,4.0 0 1,0 -8.0,0M1645.6,799.1a4.0,4.0 0 1,0 8.0,0a4.0,4.0 0 1,0 -8.0,0M1645.2,802.9a4.0,4.0 0 1,0 8.0,0a4.0,4.0 0 1,0 -8.0,0M1644.9,806.7a4.0,4.0 0 1,0 8.0,0a4.0,4.0 0 1,0 -8.0,0M1644.5,810.2a4.0,4.0 0 1,0 8.0,0a4.0,4.0 0 1,0 -8.0,0M1644.2,813.6a4.0,4.0 0 1,0 8.0,0a4.0,4.0 0 1,0 -8.0,0M1644.0,816.8a4.0,4.0 0 1,0 8.0,0a4.0,4.0 0 1,0 -8.0,0M1643.7,819.9a4.0,4.0 0 1,0 8.0,0a4.0,4.0 0 1,0 -8.0,0M1643.5,822.7a4.0,4.0 0 1,0 8.0,0a4.0,4.0 0 1,0 -8.0,0M1643.2,825.5a4.0,4.0 0 1,0 8.0,0a4.0,4.0 0 1,0 -8.0,0M1643.1,828.0a4.0,4.0 0 1,0 8.0,0a4.0,4.0 0 1,0 -8.0,0M1642.9,830.4a4.0,4.0 0 1,0 8.0,0a4.0,4.0 0 1,0 -8.0,0M1642.7,832.6a4.0,4.0 0 1,0 8.0,0a4.0,4.0 0 1,0 -8.0,0M1642.6,834.7a4.0,4.0 0 1,0 8.0,0a4.0,4.0 0 1,0 -8.0,0M1642.4,836.7a4.0,4.0 0 1,0 8.0,0a4.0,4.0 0 1,0 -8.0,0M1642.3,838.4a4.0,4.0 0 1,0 8.0,0a4.0,4.0 0 1,0 -8.0,0M1642.2,840.1a4.0,4.0 0 1,0 8.0,0a4.0,4.0 0 1,0 -8.0,0M1642.1,841.6a4.0,4.0 0 1,0 8.0,0a4.0,4.0 0 1,0 -8.0,0M1642.0,843.0a4.0,4.0 0 1,0 8.0,0a4.0,4.0 0 1,0 -8.0,0M1641.9,844.3a4.0,4.0 0 1,0 8.0,0a4.0,4.0 0 1,0 -8.0,0M1641.8,845.4a4.0,4.0 0 1,0 8.0,0a4.0,4.0 0 1,0 -8.0,0M1641.7,846.5a4.0,4.0 0 1,0 8.0,0a4.0,4.0 0 1,0 -8.0,0M1641.7,847.4a4.0,4.0 0 1,0 8.0,0a4.0,4.0 0 1,0 -8.0,0M1641.6,848.3a4.0,4.0 0 1,0 8.0,0a4.0,4.0 0 1,0 -8.0,0M1641.5,849.0a4.0,4.0 0 1,0 8.0,0a4.0,4.0 0 1,0 -8.0,0M1641.5,849.7a4.0,4.0 0 1,0 8.0,0a4.0,4.0 0 1,0 -8.0,0M1641.4,850.4a4.0,4.0 0 1,0 8.0,0a4.0,4.0 0 1,0 -8.0,0M1641.4,850.9a4.0,4.0 0 1,0 8.0,0a4.0,4.0 0 1,0 -8.0,0M1641.3,851.4a4.0,4.0 0 1,0 8.0,0a4.0,4.0 0 1,0 -8.0,0M1641.3,851.8a4.0,4.0 0 1,0 8.0,0a4.0,4.0 0 1,0 -8.0,0M1641.3,852.2a4.0,4.0 0 1,0 8.0,0a4.0,4.0 0 1,0 -8.0,0M1641.2,852.6a4.0,4.0 0 1,0 8.0,0a4.0,4.0 0 1,0 -8.0,0M1641.2,852.9a4.0,4.0 0 1,0 8.0,0a4.0,4.0 0 1,0 -8.0,0M1641.2,853.1a4.0,4.0 0 1,0 8.0,0a4.0,4.0 0 1,0 -8.0,0M1641.2,853.3a4.0,4.0 0 1,0 8.0,0a4.0,4.0 0 1,0 -8.0,0M1641.1,853.5a4.0,4.0 0 1,0 8.0,0a4.0,4.0 0 1,0 -8.0,0M1641.1,853.7a4.0,4.0 0 1,0 8.0,0a4.0,4.0 0 1,0 -8.0,0M1641.1,853.9a4.0,4.0 0 1,0 8.0,0a4.0,4.0 0 1,0 -8.0,0M1641.1,854.0a4.0,4.0 0 1,0 8.0,0a4.0,4.0 0 1,0 -8.0,0M1641.1,854.1a4.0,4.0 0 1,0 8.0,0a4.0,4.0 0 1,0 -8.0,0" fill="#000"/>
<path d="M1399.3,854.7H1890.5M1644.9,609.6V1100.4" stroke="#000" stroke-width="3.5" fill="none"/>
<path d="M1460.7,1100.4v-8.0M1460.7,609.6v8.0M1522.1,1100.4v-15.0M1522.1,609.6v15.0M1583.5,1100.4v-8.0M1583.5,609.6v8.0M1706.3,1100.4v-8.0M1706.3,609.6v8.0M1767.7,1100.4v-15.0M1767.7,609.6v15.0M1829.1,1100.4v-8.0M1829.1,609.6v8.0M1399.3,1051.0h15.0M1399.3,1001.9h8.0M1399.3,952.9h15.0M1399.3,903.8h8.0M1399.3,805.6h8.0M1399.3,756.5h15.0M1399.3,707.5h8.0M1399.3,658.4h15.0M1890.5,1065.0h-8.0M1890.5,994.9h-15.0M1890.5,924.8h-8.0M1890.5,784.6h-8.0M1890.5,714.5h-15.0M1890.5,644.4h-8.0" stroke="#000" stroke-width="3.2" fill="none"/>
<rect x="1399.3" y="609.6" width="491.2" height="490.8" fill="none" stroke="#000" stroke-width="3.6"/>
<g font-size="30.1"><text transform="translate(1385.3,668.5) scale(1,1.045)" text-anchor="end">2</text><text transform="translate(1385.3,766.6) scale(1,1.045)" text-anchor="end">1</text><text transform="translate(1385.3,864.8) scale(1,1.045)" text-anchor="end">0</text><text transform="translate(1385.3,963.0) scale(1,1.045)" text-anchor="end">-1</text><text transform="translate(1385.3,1061.1) scale(1,1.045)" text-anchor="end">-2</text><text transform="translate(1399.3,1140.6) scale(1,1.045)" text-anchor="middle">-1</text><text transform="translate(1522.1,1140.6) scale(1,1.045)" text-anchor="middle">-0.5</text><text transform="translate(1644.9,1140.6) scale(1,1.045)" text-anchor="middle">0</text><text transform="translate(1767.7,1140.6) scale(1,1.045)" text-anchor="middle">0.5</text><text transform="translate(1890.5,1140.6) scale(1,1.045)" text-anchor="middle">1</text><text transform="translate(1644.9,1175.4) scale(1,1.05)" text-anchor="middle" font-size="29.9">Field (T)</text><text transform="translate(1334.3,855.0) rotate(-90) scale(1,1.02)" text-anchor="middle">IRM (10<tspan font-size="17" dy="-7.5">-3</tspan><tspan dy="7.5"> Am</tspan><tspan font-size="17" dy="-7.5">2</tspan><tspan dy="7.5">/kg)</tspan></text><text x="1419.3" y="667.1" font-size="50">f</text><text transform="translate(1447.1,667.0) scale(1,1.04)" font-size="29.8">B220</text><text x="1658.3" y="960.9" font-size="24.8">IRM<tspan font-size="14.6" dy="7.5">0.1T</tspan><tspan dy="-7.5" dx="0.8">/IRM</tspan><tspan font-size="14.6" dy="7.5">1T</tspan><tspan dy="-7.5" dx="0.8">=0.64</tspan></text><text x="1658.3" y="992.7" font-size="24.8">IRM<tspan font-size="14.6" dy="7.5">0.3T</tspan><tspan dy="-7.5" dx="0.8">/IRM</tspan><tspan font-size="14.6" dy="7.5">1T</tspan><tspan dy="-7.5" dx="0.8">=0.86</tspan></text><text x="1658.3" y="1024.2" font-size="24.8"><tspan font-style="italic">B</tspan><tspan font-size="14.6" dy="7.5" font-style="italic">cr</tspan><tspan dy="-7.5">=49.4 mT</tspan></text><text x="1658.3" y="1055.6" font-size="24.8">S-ratio=0.72</text></g>
</svg></body></html>
